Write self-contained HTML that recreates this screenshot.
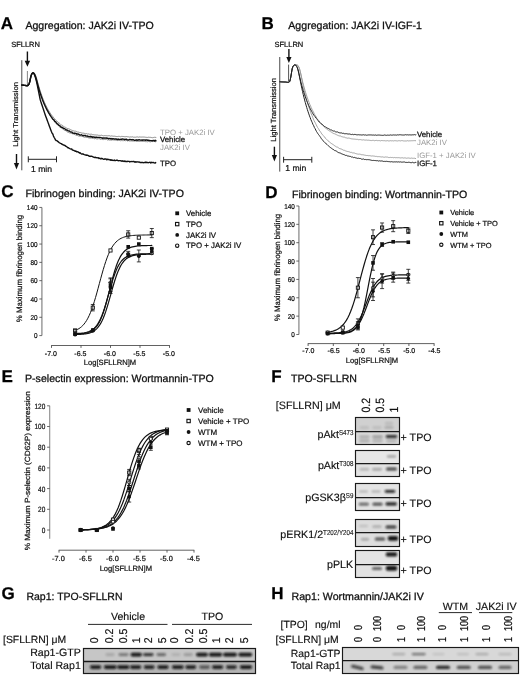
<!DOCTYPE html>
<html lang="en">
<head>
<meta charset="utf-8">
<title>Figure</title>
<style>
html,body{margin:0;padding:0;background:#fff;}
body{width:520px;height:677px;overflow:hidden;}
svg{display:block;font-family:'Liberation Sans', sans-serif;text-rendering:geometricPrecision;filter:blur(0.4px);}
</style>
</head>
<body>
<svg width="520" height="677" viewBox="0 0 520 677" style="font-family:'Liberation Sans', sans-serif">
<rect x="0" y="0" width="520" height="677" fill="#ffffff"/>
<text x="0.70" y="29.40" font-size="17.0" font-weight="bold" text-anchor="start" fill="#000" stroke="#000" stroke-width="0.25">A</text>
<text x="25.40" y="29.40" font-size="10.6" text-anchor="start" fill="#111" stroke="#111" stroke-width="0.28">Aggregation: JAK2i IV-TPO</text>
<text x="11.20" y="47.00" font-size="7.5" text-anchor="start" fill="#111" stroke="#111" stroke-width="0.22">SFLLRN</text>
<line x1="27.40" y1="51.50" x2="27.40" y2="61.80" stroke="#111" stroke-width="1.4"/>
<polygon points="24.70,60.80 30.10,60.80 27.40,66.80" fill="#111"/>
<line x1="21.80" y1="60.20" x2="21.80" y2="170.30" stroke="#4a4a4a" stroke-width="1.0"/>
<text x="0" y="0" font-size="7.1" fill="#111" stroke="#111" stroke-width="0.22" transform="translate(17.55 146.7) rotate(-90) scale(1.096 1)">Light Transmission</text>
<line x1="16.50" y1="154.00" x2="16.50" y2="164.00" stroke="#111" stroke-width="1.4"/>
<polygon points="13.90,163.00 19.10,163.00 16.50,169.50" fill="#111"/>
<line x1="28.30" y1="159.30" x2="56.50" y2="159.30" stroke="#222" stroke-width="1.0"/>
<line x1="28.30" y1="156.30" x2="28.30" y2="162.30" stroke="#222" stroke-width="1.0"/>
<line x1="56.50" y1="156.30" x2="56.50" y2="162.30" stroke="#222" stroke-width="1.0"/>
<text x="31.00" y="171.60" font-size="8.6" text-anchor="start" fill="#111" stroke="#111" stroke-width="0.22">1 min</text>
<line x1="27.40" y1="71.00" x2="27.40" y2="85.50" stroke="#777" stroke-width="0.9"/>
<path d="M21.80,85.00 L22.30,85.07 L22.80,85.13 L23.30,85.20 L23.80,85.27 L24.30,85.33 L24.80,85.38 L25.30,85.44 L25.80,85.54 L26.30,85.65 L26.80,85.72 L27.30,85.68 L27.80,85.50 L28.30,85.11 L28.80,84.41 L29.30,83.29 L29.80,81.49 L30.30,79.08 L30.80,76.75 L31.30,75.09 L31.80,73.95 L32.30,73.30 L32.80,72.97 L33.30,72.81 L33.80,72.85 L34.30,73.12 L34.80,73.70 L35.30,74.70 L35.80,75.96 L36.30,77.40 L36.80,79.11 L37.30,80.94 L38.30,84.57 L39.00,87.02 L39.70,89.34 L40.40,91.54 L41.10,93.64 L41.80,95.63 L42.50,97.53 L43.20,99.33 L43.90,101.04 L44.60,102.67 L45.30,104.21 L46.00,105.68 L46.70,107.08 L47.40,108.41 L48.10,109.68 L48.80,110.88 L49.50,112.03 L50.20,113.12 L50.90,114.15 L51.60,115.14 L52.30,115.99 L53.00,116.80 L53.70,117.90 L54.40,118.42 L55.10,119.43 L55.80,120.08 L56.50,120.63 L57.20,121.52 L57.90,121.92 L58.60,122.73 L59.30,123.12 L60.00,123.68 L60.70,124.38 L61.40,125.08 L62.10,125.21 L62.80,125.71 L63.50,126.35 L64.20,126.93 L64.90,127.14 L65.60,127.43 L66.30,128.09 L67.00,127.97 L67.70,128.71 L68.40,128.74 L69.10,128.97 L69.80,129.25 L70.50,129.62 L71.20,130.14 L71.90,130.08 L72.60,130.52 L73.30,130.78 L74.00,130.87 L74.70,131.18 L75.40,131.14 L76.10,131.33 L76.80,131.60 L77.50,132.02 L78.20,132.06 L78.90,132.18 L79.60,132.47 L80.30,132.56 L81.00,132.63 L81.70,133.03 L82.40,133.12 L83.10,133.02 L83.80,133.31 L84.50,133.41 L85.20,133.71 L85.90,133.75 L86.60,133.64 L87.30,134.09 L88.00,133.76 L88.70,134.01 L89.40,134.28 L90.10,134.07 L90.80,134.33 L91.50,134.19 L92.20,134.59 L92.90,134.72 L93.60,134.70 L94.30,134.93 L95.00,134.72 L95.70,134.98 L96.40,135.00 L97.10,135.06 L97.80,135.07 L98.50,135.32 L99.20,135.44 L99.90,135.26 L100.60,135.42 L101.30,135.17 L102.00,135.55 L102.70,135.57 L103.40,135.80 L104.10,135.77 L104.80,135.55 L105.50,135.65 L106.20,135.84 L106.90,135.56 L107.60,135.82 L108.30,135.72 L109.00,135.74 L109.70,135.75 L110.40,136.15 L111.10,135.87 L111.80,135.97 L112.50,136.08 L113.20,136.35 L113.90,136.00 L114.60,136.22 L115.30,136.30 L116.00,136.50 L116.70,136.50 L117.40,136.56 L118.10,136.30 L118.80,136.40 L119.50,136.40 L120.20,136.70 L120.90,136.76 L121.60,136.39 L122.30,136.43 L123.00,136.49 L123.70,136.52 L124.40,136.67 L125.10,136.75 L125.80,136.61 L126.50,136.51 L127.20,136.74 L127.90,136.74 L128.60,136.86 L129.30,137.08 L130.00,136.97 L130.70,136.91 L131.40,136.98 L132.10,137.04 L132.80,136.75 L133.50,137.19 L134.20,137.15 L134.90,137.22 L135.60,137.21 L136.30,137.02 L137.00,137.05 L137.70,136.92 L138.40,137.20 L139.10,136.94 L139.80,136.96 L140.50,137.05 L141.20,137.04 L141.90,137.15 L142.60,137.03 L143.30,137.02 L144.00,137.11 L144.70,137.10 L145.40,137.25 L146.10,137.10 L146.80,137.54 L147.50,137.43 L148.20,137.21 L148.90,137.28 L149.60,137.34 L150.30,137.36 L151.00,137.26 L151.70,137.64 L152.40,137.72 L153.10,137.47 L153.80,137.50 L154.50,137.31 L155.20,137.33 L155.90,137.47" fill="none" stroke="#8a8a8a" stroke-width="1.0" stroke-linejoin="round" stroke-linecap="round"/>
<path d="M21.80,85.00 L22.30,85.07 L22.80,85.13 L23.30,85.20 L23.80,85.27 L24.30,85.33 L24.80,85.38 L25.30,85.44 L25.80,85.54 L26.30,85.65 L26.80,85.72 L27.30,85.68 L27.80,85.50 L28.30,85.11 L28.80,84.41 L29.30,83.29 L29.80,81.49 L30.30,79.08 L30.80,76.75 L31.30,75.09 L31.80,73.97 L32.30,73.30 L32.80,72.95 L33.30,72.83 L33.80,72.97 L34.30,73.43 L34.80,74.28 L35.30,75.44 L35.80,76.78 L36.30,78.40 L36.80,80.21 L37.30,82.00 L38.00,84.76 L38.70,87.38 L39.40,89.87 L40.10,92.23 L40.80,94.48 L41.50,96.61 L42.20,98.64 L42.90,100.56 L43.60,102.39 L44.30,104.13 L45.00,105.78 L45.70,107.36 L46.40,108.85 L47.10,110.27 L47.80,111.62 L48.50,112.90 L49.20,114.12 L49.90,115.28 L50.60,116.39 L51.30,117.44 L52.00,118.30 L52.70,119.59 L53.40,120.10 L54.10,120.88 L54.80,122.26 L55.50,122.79 L56.20,123.30 L56.90,124.25 L57.60,124.62 L58.30,125.57 L59.00,126.45 L59.70,126.97 L60.40,127.43 L61.10,127.71 L61.80,128.28 L62.50,128.65 L63.20,129.48 L63.90,129.78 L64.60,130.35 L65.30,130.48 L66.00,130.81 L66.70,131.53 L67.40,131.99 L68.10,132.25 L68.80,132.55 L69.50,132.87 L70.20,133.12 L70.90,133.09 L71.60,133.54 L72.30,133.71 L73.00,133.76 L73.70,134.00 L74.40,134.38 L75.10,134.59 L75.80,135.07 L76.50,135.43 L77.20,135.32 L77.90,135.80 L78.60,136.02 L79.30,136.17 L80.00,135.99 L80.70,136.06 L81.40,136.22 L82.10,136.35 L82.80,136.50 L83.50,136.89 L84.20,137.20 L84.90,137.29 L85.60,137.20 L86.30,137.43 L87.00,137.63 L87.70,137.32 L88.40,137.77 L89.10,138.03 L89.80,138.05 L90.50,138.13 L91.20,138.07 L91.90,137.98 L92.60,138.44 L93.30,138.25 L94.00,138.62 L94.70,138.80 L95.40,138.54 L96.10,138.62 L96.80,139.02 L97.50,138.97 L98.20,138.71 L98.90,138.75 L99.60,138.83 L100.30,139.35 L101.00,139.36 L101.70,139.02 L102.40,139.49 L103.10,139.65 L103.80,139.51 L104.50,139.38 L105.20,139.56 L105.90,139.36 L106.60,139.35 L107.30,139.97 L108.00,139.83 L108.70,139.81 L109.40,140.10 L110.10,139.85 L110.80,140.16 L111.50,140.18 L112.20,139.85 L112.90,139.92 L113.60,139.99 L114.30,140.00 L115.00,140.25 L115.70,140.09 L116.40,140.23 L117.10,140.09 L117.80,140.60 L118.50,140.30 L119.20,140.40 L119.90,140.51 L120.60,140.74 L121.30,140.49 L122.00,140.82 L122.70,140.60 L123.40,140.65 L124.10,140.68 L124.80,140.41 L125.50,140.69 L126.20,140.57 L126.90,140.49 L127.60,141.00 L128.30,140.65 L129.00,140.86 L129.70,141.04 L130.40,140.97 L131.10,140.86 L131.80,141.00 L132.50,141.05 L133.20,141.22 L133.90,140.83 L134.60,141.13 L135.30,140.97 L136.00,141.01 L136.70,141.33 L137.40,141.20 L138.10,141.26 L138.80,141.40 L139.50,141.51 L140.20,141.25 L140.90,141.38 L141.60,141.34 L142.30,141.36 L143.00,141.49 L143.70,141.37 L144.40,141.44 L145.10,141.42 L145.80,141.72 L146.50,141.60 L147.20,141.72 L147.90,141.78 L148.60,141.39 L149.30,141.59 L150.00,141.84 L150.70,141.80 L151.40,141.39 L152.10,141.40 L152.80,141.61 L153.50,141.41 L154.20,141.52 L154.90,141.44 L155.60,141.82" fill="none" stroke="#8a8a8a" stroke-width="1.0" stroke-linejoin="round" stroke-linecap="round"/>
<path d="M21.80,85.00 L22.30,85.07 L22.80,85.13 L23.30,85.20 L23.80,85.27 L24.30,85.33 L24.80,85.38 L25.30,85.44 L25.80,85.54 L26.30,85.65 L26.80,85.72 L27.30,85.68 L27.80,85.50 L28.30,85.11 L28.80,84.41 L29.30,83.29 L29.80,81.49 L30.30,79.08 L30.80,76.75 L31.30,75.09 L31.80,73.98 L32.30,73.30 L32.80,72.94 L33.30,72.89 L33.80,73.20 L34.30,73.91 L34.80,74.96 L35.30,76.23 L35.80,77.72 L36.30,79.48 L36.80,81.30 L37.70,84.67 L38.40,87.20 L39.10,89.61 L39.80,91.90 L40.50,94.07 L41.20,96.13 L41.90,98.10 L42.60,99.96 L43.30,101.73 L44.00,103.42 L44.70,105.02 L45.40,106.54 L46.10,107.99 L46.80,109.37 L47.50,110.68 L48.20,111.93 L48.90,113.12 L49.60,114.25 L50.30,115.32 L51.00,116.35 L51.70,117.32 L52.40,118.48 L53.10,119.45 L53.80,119.70 L54.50,120.95 L55.20,121.67 L55.90,121.99 L56.60,123.28 L57.30,124.01 L58.00,124.04 L58.70,125.23 L59.40,125.36 L60.10,125.99 L60.80,126.91 L61.50,127.29 L62.20,127.23 L62.90,127.91 L63.60,128.41 L64.30,128.69 L65.00,128.97 L65.70,129.46 L66.40,130.15 L67.10,129.93 L67.80,130.70 L68.50,130.93 L69.20,130.90 L69.90,131.45 L70.60,131.96 L71.30,132.15 L72.00,132.05 L72.70,133.04 L73.40,133.12 L74.10,133.50 L74.80,133.03 L75.50,133.37 L76.20,133.39 L76.90,134.18 L77.60,133.97 L78.30,134.04 L79.00,134.45 L79.70,135.01 L80.40,135.10 L81.10,134.81 L81.80,134.88 L82.50,135.64 L83.20,135.50 L83.90,135.74 L84.60,135.39 L85.30,135.49 L86.00,136.12 L86.70,136.03 L87.40,135.86 L88.10,136.67 L88.80,136.54 L89.50,136.78 L90.20,136.30 L90.90,137.02 L91.60,136.49 L92.30,137.22 L93.00,136.98 L93.70,136.98 L94.40,137.24 L95.10,137.62 L95.80,137.17 L96.50,137.14 L97.20,137.54 L97.90,137.38 L98.60,137.35 L99.30,137.47 L100.00,137.45 L100.70,137.64 L101.40,137.79 L102.10,137.85 L102.80,138.28 L103.50,137.96 L104.20,138.19 L104.90,137.99 L105.60,138.18 L106.30,137.98 L107.00,138.22 L107.70,138.09 L108.40,138.71 L109.10,138.62 L109.80,138.38 L110.50,138.66 L111.20,139.07 L111.90,138.46 L112.60,139.08 L113.30,138.81 L114.00,138.91 L114.70,139.22 L115.40,138.91 L116.10,139.05 L116.80,139.23 L117.50,139.51 L118.20,139.04 L118.90,139.47 L119.60,139.41 L120.30,139.39 L121.00,139.24 L121.70,139.23 L122.40,139.04 L123.10,139.13 L123.80,139.12 L124.50,139.69 L125.20,139.34 L125.90,139.30 L126.60,139.27 L127.30,139.90 L128.00,139.96 L128.70,139.83 L129.40,139.55 L130.10,139.55 L130.80,139.62 L131.50,139.78 L132.20,139.57 L132.90,139.83 L133.60,139.71 L134.30,140.30 L135.00,140.33 L135.70,140.02 L136.40,139.80 L137.10,140.41 L137.80,139.91 L138.50,139.97 L139.20,139.71 L139.90,140.04 L140.60,140.14 L141.30,140.19 L142.00,139.97 L142.70,140.23 L143.40,139.86 L144.10,140.09 L144.80,139.97 L145.50,140.24 L146.20,139.97 L146.90,139.98 L147.60,140.23 L148.30,140.19 L149.00,140.49 L149.70,140.47 L150.40,140.67 L151.10,140.61 L151.80,140.68 L152.50,140.83 L153.20,140.45 L153.90,140.42 L154.60,140.97 L155.30,140.32 L156.00,140.80" fill="none" stroke="#111" stroke-width="1.4" stroke-linejoin="round" stroke-linecap="round"/>
<path d="M21.80,85.00 L22.30,85.07 L22.80,85.13 L23.30,85.20 L23.80,85.27 L24.30,85.33 L24.80,85.38 L25.30,85.44 L25.80,85.54 L26.30,85.65 L26.80,85.72 L27.30,85.68 L27.80,85.50 L28.30,85.11 L28.80,84.41 L29.30,83.29 L29.80,81.49 L30.30,79.08 L30.80,76.75 L31.30,75.10 L31.80,74.01 L32.30,73.30 L32.80,72.93 L33.30,73.02 L33.80,73.61 L34.30,74.53 L34.80,75.70 L35.30,77.08 L35.80,78.75 L36.30,80.57 L37.40,85.50 L38.10,89.00 L38.80,92.50 L39.50,96.00 L40.20,99.50 L40.90,101.81 L41.60,103.93 L42.30,106.04 L43.00,108.15 L43.70,110.27 L44.40,112.38 L45.10,114.49 L45.80,116.48 L46.50,118.36 L47.20,120.24 L47.90,122.12 L48.60,124.00 L49.30,125.89 L50.00,127.77 L50.70,129.65 L51.40,131.53 L52.10,133.11 L52.80,134.04 L53.50,136.07 L54.20,137.51 L54.90,138.70 L55.60,140.06 L56.30,140.64 L57.00,140.61 L57.70,141.43 L58.40,141.93 L59.10,142.61 L59.80,142.99 L60.50,143.40 L61.20,143.61 L61.90,144.26 L62.60,144.52 L63.30,144.97 L64.00,145.04 L64.70,145.32 L65.40,145.84 L66.10,146.41 L66.80,146.59 L67.50,147.55 L68.20,147.71 L68.90,148.14 L69.60,148.49 L70.30,148.88 L71.00,149.06 L71.70,149.01 L72.40,149.98 L73.10,150.28 L73.80,150.42 L74.50,150.79 L75.20,151.21 L75.90,151.01 L76.60,151.83 L77.30,151.72 L78.00,151.86 L78.70,152.29 L79.40,152.94 L80.10,152.80 L80.80,153.51 L81.50,153.98 L82.20,153.82 L82.90,153.95 L83.60,154.25 L84.30,154.64 L85.00,154.93 L85.70,155.03 L86.40,155.27 L87.10,155.04 L87.80,155.32 L88.50,155.63 L89.20,156.24 L89.90,156.11 L90.60,156.48 L91.30,156.18 L92.00,156.37 L92.70,156.68 L93.40,157.15 L94.10,157.31 L94.80,157.45 L95.50,157.29 L96.20,157.62 L96.90,157.72 L97.60,157.87 L98.30,157.74 L99.00,158.50 L99.70,158.10 L100.40,158.84 L101.10,158.90 L101.80,158.27 L102.50,158.72 L103.20,159.10 L103.90,159.32 L104.60,159.00 L105.30,158.96 L106.00,159.01 L106.70,159.69 L107.40,159.20 L108.10,159.60 L108.80,159.35 L109.50,159.75 L110.20,160.18 L110.90,159.61 L111.60,160.23 L112.30,160.06 L113.00,160.44 L113.70,160.37 L114.40,160.07 L115.10,160.68 L115.80,160.43 L116.50,160.13 L117.20,160.19 L117.90,160.66 L118.60,160.71 L119.30,160.66 L120.00,160.61 L120.70,160.82 L121.40,160.84 L122.10,161.31 L122.80,160.68 L123.50,161.33 L124.20,161.44 L124.90,160.91 L125.60,161.61 L126.30,161.48 L127.00,161.68 L127.70,161.23 L128.40,161.34 L129.10,161.41 L129.80,161.94 L130.50,161.65 L131.20,161.52 L131.90,161.62 L132.60,161.54 L133.30,161.40 L134.00,161.49 L134.70,162.12 L135.40,161.73 L136.10,162.29 L136.80,161.79 L137.50,161.85 L138.20,162.09 L138.90,161.88 L139.60,162.07 L140.30,162.58 L141.00,162.54 L141.70,162.51 L142.40,162.39 L143.10,162.65 L143.80,162.70 L144.50,162.41 L145.20,162.57 L145.90,162.06 L146.60,162.63 L147.30,162.43 L148.00,162.70 L148.70,162.64 L149.40,162.38 L150.10,162.22 L150.80,162.95 L151.50,162.33 L152.20,162.64 L152.90,162.56 L153.60,162.55 L154.30,162.93 L155.00,163.14 L155.70,162.60" fill="none" stroke="#111" stroke-width="1.4" stroke-linejoin="round" stroke-linecap="round"/>
<text x="160.00" y="134.70" font-size="7.8" text-anchor="start" fill="#999">TPO + JAK2i IV</text>
<text x="160.00" y="142.20" font-size="7.8" text-anchor="start" fill="#111" stroke="#111" stroke-width="0.25">Vehicle</text>
<text x="160.00" y="150.00" font-size="7.8" text-anchor="start" fill="#999">JAK2i IV</text>
<text x="160.00" y="165.80" font-size="7.8" text-anchor="start" fill="#111" stroke="#111" stroke-width="0.25">TPO</text>
<text x="261.60" y="29.40" font-size="17.0" font-weight="bold" text-anchor="start" fill="#000" stroke="#000" stroke-width="0.25">B</text>
<text x="288.30" y="29.40" font-size="10.6" text-anchor="start" fill="#111" stroke="#111" stroke-width="0.28">Aggregation: JAK2i IV-IGF-1</text>
<text x="274.50" y="47.00" font-size="7.5" text-anchor="start" fill="#111" stroke="#111" stroke-width="0.22">SFLLRN</text>
<line x1="288.90" y1="49.00" x2="288.90" y2="58.00" stroke="#111" stroke-width="1.4"/>
<polygon points="286.30,57.00 291.50,57.00 288.90,63.00" fill="#111"/>
<line x1="279.75" y1="57.00" x2="279.75" y2="171.60" stroke="#4a4a4a" stroke-width="1.0"/>
<text x="0" y="0" font-size="7.4" fill="#111" stroke="#111" stroke-width="0.22" transform="translate(276.2 141.7) rotate(-90) scale(1.035 1)">Light Transmission</text>
<line x1="274.40" y1="146.70" x2="274.40" y2="156.10" stroke="#111" stroke-width="1.4"/>
<polygon points="271.80,155.10 277.00,155.10 274.40,161.60" fill="#111"/>
<line x1="283.60" y1="159.70" x2="311.80" y2="159.70" stroke="#222" stroke-width="1.0"/>
<line x1="283.60" y1="156.80" x2="283.60" y2="162.70" stroke="#222" stroke-width="1.0"/>
<line x1="311.80" y1="156.80" x2="311.80" y2="162.70" stroke="#222" stroke-width="1.0"/>
<text x="285.30" y="170.80" font-size="8.6" text-anchor="start" fill="#111" stroke="#111" stroke-width="0.22">1 min</text>
<line x1="288.60" y1="64.60" x2="288.60" y2="81.50" stroke="#555" stroke-width="1.0"/>
<path d="M279.80,81.80 L280.30,81.82 L280.80,81.84 L281.30,81.87 L281.80,81.90 L282.30,81.92 L282.80,81.94 L283.30,81.96 L283.80,81.98 L284.30,81.99 L284.80,82.00 L285.30,82.01 L285.80,82.07 L286.30,82.15 L286.80,82.24 L287.30,82.31 L287.80,82.33 L288.30,82.30 L288.80,82.17 L289.30,81.93 L289.80,81.28 L290.30,79.41 L290.80,76.95 L291.30,73.80 L291.80,70.60 L292.30,68.28 L292.80,67.16 L293.30,66.39 L293.80,65.89 L294.30,65.58 L294.80,65.39 L295.30,65.25 L295.80,65.09 L296.30,64.89 L296.80,64.84 L297.30,65.01 L297.80,65.40 L298.30,66.05 L298.80,66.99 L299.30,68.22 L299.80,69.85 L300.30,71.91 L300.80,74.00 L301.50,77.07 L302.20,79.99 L302.90,82.78 L303.60,85.44 L304.30,87.98 L305.00,90.40 L305.70,92.71 L306.40,94.91 L307.10,97.02 L307.80,99.02 L308.50,100.93 L309.20,102.76 L309.90,104.56 L310.60,106.08 L311.30,107.77 L312.00,109.22 L312.70,110.57 L313.40,111.94 L314.10,113.28 L314.80,114.81 L315.50,115.84 L316.20,116.87 L316.90,118.24 L317.60,119.31 L318.30,120.09 L319.00,120.91 L319.70,121.83 L320.40,122.66 L321.10,123.58 L321.80,124.27 L322.50,125.08 L323.20,125.80 L323.90,126.61 L324.60,127.39 L325.30,127.95 L326.00,128.41 L326.70,128.98 L327.40,129.57 L328.10,130.03 L328.80,130.51 L329.50,130.87 L330.20,131.40 L330.90,132.11 L331.60,132.18 L332.30,132.73 L333.00,133.15 L333.70,133.60 L334.40,133.69 L335.10,134.03 L335.80,134.34 L336.50,134.69 L337.20,135.00 L337.90,135.47 L338.60,135.69 L339.30,135.95 L340.00,135.84 L340.70,136.07 L341.40,136.56 L342.10,136.84 L342.80,136.87 L343.50,137.10 L344.20,137.04 L344.90,137.37 L345.60,137.75 L346.30,137.87 L347.00,138.03 L347.70,138.22 L348.40,138.06 L349.10,138.14 L349.80,138.28 L350.50,138.55 L351.20,138.72 L351.90,138.93 L352.60,138.95 L353.30,139.02 L354.00,139.16 L354.70,139.13 L355.40,139.25 L356.10,139.13 L356.80,139.50 L357.50,139.36 L358.20,139.70 L358.90,139.66 L359.60,139.59 L360.30,139.58 L361.00,139.69 L361.70,139.90 L362.40,139.98 L363.10,139.80 L363.80,139.83 L364.50,140.06 L365.20,140.13 L365.90,140.09 L366.60,140.06 L367.30,140.25 L368.00,140.05 L368.70,140.21 L369.40,140.30 L370.10,140.53 L370.80,140.44 L371.50,140.56 L372.20,140.43 L372.90,140.35 L373.60,140.38 L374.30,140.69 L375.00,140.61 L375.70,140.47 L376.40,140.38 L377.10,140.59 L377.80,140.68 L378.50,140.59 L379.20,140.54 L379.90,140.72 L380.60,140.84 L381.30,140.57 L382.00,140.51 L382.70,140.64 L383.40,140.69 L384.10,140.80 L384.80,140.62 L385.50,140.87 L386.20,140.85 L386.90,140.76 L387.60,140.65 L388.30,140.96 L389.00,140.71 L389.70,140.92 L390.40,140.69 L391.10,140.69 L391.80,140.91 L392.50,140.72 L393.20,140.99 L393.90,140.81 L394.60,140.69 L395.30,140.71 L396.00,140.79 L396.70,140.89 L397.40,141.00 L398.10,140.68 L398.80,140.78 L399.50,140.71 L400.20,141.01 L400.90,140.68 L401.60,140.64 L402.30,140.65 L403.00,140.78 L403.70,140.98 L404.40,140.97 L405.10,140.91 L405.80,141.01 L406.50,140.98 L407.20,140.74 L407.90,140.68 L408.60,140.98 L409.30,140.90 L410.00,140.61 L410.70,140.86 L411.40,140.74 L412.10,140.74 L412.80,140.72 L413.50,140.65 L414.20,140.58 L414.90,140.69 L415.60,140.71" fill="none" stroke="#999" stroke-width="0.9" stroke-linejoin="round" stroke-linecap="round"/>
<path d="M279.80,81.80 L280.30,81.82 L280.80,81.84 L281.30,81.87 L281.80,81.90 L282.30,81.92 L282.80,81.94 L283.30,81.96 L283.80,81.98 L284.30,81.99 L284.80,82.00 L285.30,82.01 L285.80,82.07 L286.30,82.15 L286.80,82.24 L287.30,82.31 L287.80,82.33 L288.30,82.30 L288.80,82.17 L289.30,81.93 L289.80,81.28 L290.30,79.41 L290.80,76.95 L291.30,73.80 L291.80,70.60 L292.30,68.28 L292.80,67.16 L293.30,66.39 L293.80,65.89 L294.30,65.58 L294.80,65.39 L295.30,65.25 L295.80,65.09 L296.30,64.89 L296.80,64.84 L297.30,65.01 L297.80,65.40 L298.30,66.05 L298.80,66.99 L299.30,68.22 L299.80,69.85 L300.30,71.91 L300.80,74.00 L301.50,77.63 L302.20,81.09 L302.90,84.39 L303.60,87.53 L304.30,90.53 L305.00,93.39 L305.70,96.11 L306.40,98.71 L307.10,101.19 L307.80,103.56 L308.50,105.82 L309.20,107.97 L309.90,110.21 L310.60,111.84 L311.30,114.05 L312.00,115.54 L312.70,117.31 L313.40,119.13 L314.10,120.69 L314.80,122.02 L315.50,123.29 L316.20,124.82 L316.90,126.08 L317.60,127.55 L318.30,128.45 L319.00,129.65 L319.70,130.95 L320.40,131.65 L321.10,132.80 L321.80,133.91 L322.50,134.81 L323.20,135.39 L323.90,136.23 L324.60,137.04 L325.30,138.15 L326.00,138.62 L326.70,139.52 L327.40,140.26 L328.10,140.69 L328.80,141.28 L329.50,142.15 L330.20,142.59 L330.90,143.00 L331.60,143.71 L332.30,144.05 L333.00,144.52 L333.70,144.88 L334.40,145.63 L335.10,146.13 L335.80,146.43 L336.50,146.95 L337.20,146.97 L337.90,147.42 L338.60,147.88 L339.30,148.41 L340.00,148.74 L340.70,148.83 L341.40,149.08 L342.10,149.45 L342.80,149.76 L343.50,150.20 L344.20,150.17 L344.90,150.67 L345.60,150.89 L346.30,151.16 L347.00,151.37 L347.70,151.52 L348.40,151.62 L349.10,151.83 L349.80,152.04 L350.50,152.40 L351.20,152.31 L351.90,152.53 L352.60,152.93 L353.30,152.90 L354.00,152.99 L354.70,153.13 L355.40,153.49 L356.10,153.55 L356.80,153.95 L357.50,154.05 L358.20,154.23 L358.90,154.07 L359.60,154.12 L360.30,154.25 L361.00,154.53 L361.70,154.73 L362.40,154.73 L363.10,154.76 L363.80,154.94 L364.50,155.12 L365.20,155.24 L365.90,155.37 L366.60,155.50 L367.30,155.52 L368.00,155.39 L368.70,155.76 L369.40,155.63 L370.10,155.82 L370.80,155.82 L371.50,156.04 L372.20,155.90 L372.90,155.99 L373.60,156.06 L374.30,156.09 L375.00,156.45 L375.70,156.40 L376.40,156.36 L377.10,156.45 L377.80,156.75 L378.50,156.61 L379.20,156.56 L379.90,156.85 L380.60,156.84 L381.30,157.03 L382.00,156.72 L382.70,156.92 L383.40,157.11 L384.10,157.17 L384.80,157.24 L385.50,156.94 L386.20,157.09 L386.90,157.06 L387.60,157.13 L388.30,157.49 L389.00,157.37 L389.70,157.55 L390.40,157.37 L391.10,157.60 L391.80,157.47 L392.50,157.43 L393.20,157.67 L393.90,157.78 L394.60,157.47 L395.30,157.70 L396.00,157.74 L396.70,157.61 L397.40,157.71 L398.10,157.64 L398.80,157.70 L399.50,157.75 L400.20,157.91 L400.90,157.96 L401.60,157.81 L402.30,157.76 L403.00,157.91 L403.70,158.08 L404.40,157.90 L405.10,157.98 L405.80,157.96 L406.50,158.22 L407.20,158.14 L407.90,157.97 L408.60,158.01 L409.30,158.15 L410.00,158.23 L410.70,158.29 L411.40,158.09 L412.10,158.13 L412.80,158.37 L413.50,158.27 L414.20,158.24 L414.90,158.27 L415.60,158.54" fill="none" stroke="#999" stroke-width="0.9" stroke-linejoin="round" stroke-linecap="round"/>
<path d="M279.80,81.80 L280.30,81.82 L280.80,81.84 L281.30,81.87 L281.80,81.90 L282.30,81.92 L282.80,81.94 L283.30,81.96 L283.80,81.98 L284.30,81.99 L284.80,82.00 L285.30,82.01 L285.80,82.07 L286.30,82.15 L286.80,82.24 L287.30,82.31 L287.80,82.33 L288.30,82.30 L288.80,82.17 L289.30,81.93 L289.80,81.28 L290.30,79.41 L290.80,76.98 L291.30,74.00 L291.80,70.92 L292.30,68.39 L292.80,66.80 L293.30,65.85 L293.80,65.30 L294.30,64.93 L294.80,64.77 L295.30,64.88 L295.80,65.21 L296.30,65.76 L296.80,66.58 L297.30,67.69 L297.80,69.13 L298.30,71.06 L298.80,73.19 L299.70,77.08 L300.40,80.02 L301.10,82.80 L301.80,85.45 L302.50,87.97 L303.20,90.36 L303.90,92.63 L304.60,94.79 L305.30,96.84 L306.00,98.79 L306.70,100.65 L307.40,102.41 L308.10,104.08 L308.80,105.67 L309.50,107.18 L310.20,108.52 L310.90,110.01 L311.60,111.21 L312.30,112.47 L313.00,113.86 L313.70,115.04 L314.40,115.78 L315.10,116.70 L315.80,117.92 L316.50,118.56 L317.20,119.32 L317.90,120.58 L318.60,121.12 L319.30,122.06 L320.00,122.55 L320.70,123.45 L321.40,123.87 L322.10,124.32 L322.80,124.82 L323.50,125.63 L324.20,126.19 L324.90,126.81 L325.60,126.86 L326.30,127.57 L327.00,127.86 L327.70,128.32 L328.40,128.52 L329.10,128.94 L329.80,129.40 L330.50,129.92 L331.20,129.82 L331.90,130.30 L332.60,130.73 L333.30,131.07 L334.00,130.93 L334.70,131.13 L335.40,131.76 L336.10,131.99 L336.80,131.94 L337.50,131.92 L338.20,132.53 L338.90,132.43 L339.60,132.85 L340.30,132.86 L341.00,133.11 L341.70,132.91 L342.40,133.35 L343.10,133.19 L343.80,133.40 L344.50,133.73 L345.20,133.82 L345.90,133.60 L346.60,133.71 L347.30,133.89 L348.00,134.03 L348.70,134.04 L349.40,133.98 L350.10,134.11 L350.80,134.42 L351.50,134.56 L352.20,134.19 L352.90,134.51 L353.60,134.66 L354.30,134.35 L355.00,134.79 L355.70,134.47 L356.40,134.75 L357.10,134.77 L357.80,134.84 L358.50,134.71 L359.20,134.80 L359.90,134.91 L360.60,134.86 L361.30,135.00 L362.00,134.91 L362.70,134.93 L363.40,134.74 L364.10,135.06 L364.80,135.01 L365.50,134.90 L366.20,135.18 L366.90,135.20 L367.60,135.05 L368.30,134.92 L369.00,135.07 L369.70,134.90 L370.40,134.92 L371.10,135.07 L371.80,134.91 L372.50,135.09 L373.20,135.13 L373.90,134.90 L374.60,135.20 L375.30,134.92 L376.00,135.25 L376.70,135.27 L377.40,135.14 L378.10,134.91 L378.80,135.13 L379.50,135.07 L380.20,135.35 L380.90,134.94 L381.60,135.30 L382.30,135.37 L383.00,135.23 L383.70,135.27 L384.40,134.95 L385.10,135.34 L385.80,135.09 L386.50,135.32 L387.20,135.29 L387.90,134.91 L388.60,135.22 L389.30,135.28 L390.00,134.84 L390.70,134.98 L391.40,135.17 L392.10,134.87 L392.80,135.23 L393.50,134.91 L394.20,135.17 L394.90,134.83 L395.60,135.00 L396.30,135.20 L397.00,134.83 L397.70,134.85 L398.40,134.97 L399.10,134.86 L399.80,134.71 L400.50,134.78 L401.20,134.76 L401.90,135.14 L402.60,135.00 L403.30,135.10 L404.00,134.72 L404.70,135.02 L405.40,134.68 L406.10,134.88 L406.80,134.92 L407.50,134.77 L408.20,135.02 L408.90,134.85 L409.60,134.85 L410.30,134.99 L411.00,134.59 L411.70,135.03 L412.40,134.83 L413.10,134.71 L413.80,134.90 L414.50,134.62 L415.20,134.97 L415.90,134.76" fill="none" stroke="#222" stroke-width="1.0" stroke-linejoin="round" stroke-linecap="round"/>
<path d="M279.80,81.80 L280.30,81.82 L280.80,81.84 L281.30,81.87 L281.80,81.90 L282.30,81.92 L282.80,81.94 L283.30,81.96 L283.80,81.98 L284.30,81.99 L284.80,82.00 L285.30,82.01 L285.80,82.07 L286.30,82.15 L286.80,82.24 L287.30,82.31 L287.80,82.33 L288.30,82.30 L288.80,82.17 L289.30,81.93 L289.80,81.28 L290.30,79.41 L290.80,76.98 L291.30,74.00 L291.80,70.92 L292.30,68.39 L292.80,66.80 L293.30,65.85 L293.80,65.30 L294.30,64.93 L294.80,64.77 L295.30,64.88 L295.80,65.21 L296.30,65.76 L296.80,66.58 L297.30,67.69 L297.80,69.13 L298.30,71.06 L298.80,73.19 L299.70,77.81 L300.40,81.44 L301.10,84.91 L301.80,88.21 L302.50,91.35 L303.20,94.35 L303.90,97.22 L304.60,99.95 L305.30,102.55 L306.00,105.03 L306.70,107.41 L307.40,109.67 L308.10,111.83 L308.80,113.89 L309.50,115.86 L310.20,117.66 L310.90,119.66 L311.60,121.21 L312.30,122.72 L313.00,124.57 L313.70,125.71 L314.40,127.53 L315.10,128.61 L315.80,130.11 L316.50,131.53 L317.20,132.52 L317.90,133.70 L318.60,134.62 L319.30,135.51 L320.00,136.53 L320.70,137.54 L321.40,138.70 L322.10,139.48 L322.80,140.36 L323.50,141.36 L324.20,141.75 L324.90,142.54 L325.60,143.46 L326.30,143.83 L327.00,144.47 L327.70,145.27 L328.40,145.75 L329.10,146.45 L329.80,146.94 L330.50,147.65 L331.20,148.17 L331.90,148.46 L332.60,149.14 L333.30,149.52 L334.00,149.79 L334.70,150.61 L335.40,150.66 L336.10,151.00 L336.80,151.35 L337.50,151.98 L338.20,152.44 L338.90,152.73 L339.60,152.86 L340.30,153.10 L341.00,153.27 L341.70,153.87 L342.40,154.11 L343.10,154.27 L343.80,154.67 L344.50,154.82 L345.20,155.31 L345.90,155.44 L346.60,155.42 L347.30,155.96 L348.00,155.74 L348.70,156.18 L349.40,156.32 L350.10,156.42 L350.80,156.51 L351.50,157.05 L352.20,156.84 L352.90,157.27 L353.60,157.62 L354.30,157.38 L355.00,157.56 L355.70,157.91 L356.40,158.00 L357.10,158.20 L357.80,158.42 L358.50,158.23 L359.20,158.42 L359.90,158.53 L360.60,158.52 L361.30,159.06 L362.00,159.12 L362.70,159.19 L363.40,158.94 L364.10,159.46 L364.80,159.51 L365.50,159.46 L366.20,159.69 L366.90,159.64 L367.60,159.61 L368.30,159.64 L369.00,159.78 L369.70,159.77 L370.40,159.99 L371.10,160.28 L371.80,160.32 L372.50,160.47 L373.20,160.47 L373.90,160.32 L374.60,160.53 L375.30,160.53 L376.00,160.77 L376.70,160.70 L377.40,160.63 L378.10,160.88 L378.80,161.10 L379.50,160.78 L380.20,161.17 L380.90,160.79 L381.60,160.96 L382.30,161.00 L383.00,161.30 L383.70,161.45 L384.40,161.40 L385.10,161.24 L385.80,161.56 L386.50,161.32 L387.20,161.32 L387.90,161.70 L388.60,161.60 L389.30,161.67 L390.00,161.70 L390.70,161.89 L391.40,161.67 L392.10,161.89 L392.80,161.86 L393.50,161.97 L394.20,161.80 L394.90,161.97 L395.60,161.93 L396.30,161.83 L397.00,161.81 L397.70,162.05 L398.40,161.80 L399.10,162.25 L399.80,161.89 L400.50,161.86 L401.20,161.93 L401.90,162.37 L402.60,162.10 L403.30,162.02 L404.00,161.99 L404.70,162.02 L405.40,162.37 L406.10,162.36 L406.80,162.42 L407.50,162.46 L408.20,162.15 L408.90,162.43 L409.60,162.34 L410.30,162.58 L411.00,162.61 L411.70,162.66 L412.40,162.27 L413.10,162.69 L413.80,162.73 L414.50,162.76 L415.20,162.36 L415.90,162.43" fill="none" stroke="#222" stroke-width="1.0" stroke-linejoin="round" stroke-linecap="round"/>
<text x="417.00" y="137.20" font-size="7.8" text-anchor="start" fill="#111" stroke="#111" stroke-width="0.25">Vehicle</text>
<text x="417.00" y="144.60" font-size="7.8" text-anchor="start" fill="#999">JAK2i IV</text>
<text x="417.00" y="158.20" font-size="7.8" text-anchor="start" fill="#999">IGF-1 + JAK2i IV</text>
<text x="417.00" y="165.70" font-size="7.8" text-anchor="start" fill="#111" stroke="#111" stroke-width="0.25">IGF-1</text>
<text x="1.20" y="196.80" font-size="17.0" font-weight="bold" text-anchor="start" fill="#000" stroke="#000" stroke-width="0.25">C</text>
<text x="25.50" y="197.30" font-size="10.6" text-anchor="start" fill="#111" stroke="#111" stroke-width="0.28">Fibrinogen binding: JAK2i IV-TPO</text>
<line x1="41.90" y1="207.43" x2="41.90" y2="335.60" stroke="#8c8c8c" stroke-width="1.3"/>
<line x1="39.30" y1="335.60" x2="41.90" y2="335.60" stroke="#444" stroke-width="0.8"/>
<text x="0" y="0" font-size="7.1" text-anchor="end" fill="#111" stroke="#111" stroke-width="0.22" transform="translate(37.50 338.33) scale(0.9 1)">0</text>
<line x1="39.30" y1="317.29" x2="41.90" y2="317.29" stroke="#444" stroke-width="0.8"/>
<text x="0" y="0" font-size="7.1" text-anchor="end" fill="#111" stroke="#111" stroke-width="0.22" transform="translate(37.50 320.02) scale(0.9 1)">20</text>
<line x1="39.30" y1="298.98" x2="41.90" y2="298.98" stroke="#444" stroke-width="0.8"/>
<text x="0" y="0" font-size="7.1" text-anchor="end" fill="#111" stroke="#111" stroke-width="0.22" transform="translate(37.50 301.71) scale(0.9 1)">40</text>
<line x1="39.30" y1="280.67" x2="41.90" y2="280.67" stroke="#444" stroke-width="0.8"/>
<text x="0" y="0" font-size="7.1" text-anchor="end" fill="#111" stroke="#111" stroke-width="0.22" transform="translate(37.50 283.40) scale(0.9 1)">60</text>
<line x1="39.30" y1="262.36" x2="41.90" y2="262.36" stroke="#444" stroke-width="0.8"/>
<text x="0" y="0" font-size="7.1" text-anchor="end" fill="#111" stroke="#111" stroke-width="0.22" transform="translate(37.50 265.09) scale(0.9 1)">80</text>
<line x1="39.30" y1="244.05" x2="41.90" y2="244.05" stroke="#444" stroke-width="0.8"/>
<text x="0" y="0" font-size="7.1" text-anchor="end" fill="#111" stroke="#111" stroke-width="0.22" transform="translate(37.50 246.78) scale(0.9 1)">100</text>
<line x1="39.30" y1="225.74" x2="41.90" y2="225.74" stroke="#444" stroke-width="0.8"/>
<text x="0" y="0" font-size="7.1" text-anchor="end" fill="#111" stroke="#111" stroke-width="0.22" transform="translate(37.50 228.47) scale(0.9 1)">120</text>
<line x1="39.30" y1="207.43" x2="41.90" y2="207.43" stroke="#444" stroke-width="0.8"/>
<text x="0" y="0" font-size="7.1" text-anchor="end" fill="#111" stroke="#111" stroke-width="0.22" transform="translate(37.50 210.16) scale(0.9 1)">140</text>
<text x="0" y="0" font-size="7.85" text-anchor="middle" fill="#111" stroke="#111" stroke-width="0.22" transform="translate(22.10 268.50) rotate(-90) scale(1.0 1)">% Maximum fibrinogen binding</text>
<line x1="51.20" y1="345.50" x2="169.80" y2="345.50" stroke="#3a3a3a" stroke-width="0.8"/>
<line x1="51.50" y1="345.50" x2="51.50" y2="347.90" stroke="#3a3a3a" stroke-width="0.8"/>
<text x="50.90" y="355.50" font-size="7.0" text-anchor="middle" fill="#111" stroke="#111" stroke-width="0.22">-7.0</text>
<line x1="81.00" y1="345.50" x2="81.00" y2="347.90" stroke="#3a3a3a" stroke-width="0.8"/>
<text x="80.40" y="355.50" font-size="7.0" text-anchor="middle" fill="#111" stroke="#111" stroke-width="0.22">-6.5</text>
<line x1="110.50" y1="345.50" x2="110.50" y2="347.90" stroke="#3a3a3a" stroke-width="0.8"/>
<text x="109.90" y="355.50" font-size="7.0" text-anchor="middle" fill="#111" stroke="#111" stroke-width="0.22">-6.0</text>
<line x1="140.00" y1="345.50" x2="140.00" y2="347.90" stroke="#3a3a3a" stroke-width="0.8"/>
<text x="139.40" y="355.50" font-size="7.0" text-anchor="middle" fill="#111" stroke="#111" stroke-width="0.22">-5.5</text>
<line x1="169.50" y1="345.50" x2="169.50" y2="347.90" stroke="#3a3a3a" stroke-width="0.8"/>
<text x="168.90" y="355.50" font-size="7.0" text-anchor="middle" fill="#111" stroke="#111" stroke-width="0.22">-5.0</text>
<text x="110.00" y="364.90" font-size="7.6" text-anchor="middle" fill="#111" stroke="#111" stroke-width="0.22">Log[SFLLRN]M</text>
<path d="M75.10,330.45 L76.38,329.95 L77.66,329.34 L78.94,328.62 L80.21,327.76 L81.49,326.74 L82.77,325.52 L84.05,324.09 L85.33,322.40 L86.61,320.44 L87.88,318.18 L89.16,315.58 L90.44,312.64 L91.72,309.34 L93.00,305.69 L94.28,301.71 L95.55,297.44 L96.83,292.93 L98.11,288.26 L99.39,283.51 L100.67,278.76 L101.95,274.11 L103.22,269.64 L104.50,265.41 L105.78,261.48 L107.06,257.88 L108.34,254.63 L109.62,251.74 L110.89,249.20 L112.17,246.98 L113.45,245.07 L114.73,243.43 L116.01,242.03 L117.29,240.84 L118.56,239.84 L119.84,239.01 L121.12,238.30 L122.40,237.72 L123.68,237.23 L124.96,236.83 L126.23,236.49 L127.51,236.21 L128.79,235.98 L130.07,235.79 L131.35,235.63 L132.62,235.50 L133.90,235.40 L135.18,235.31 L136.46,235.24 L137.74,235.18 L139.02,235.13 L140.30,235.09 L141.57,235.05 L142.85,235.02 L144.13,235.00 L145.41,234.98 L146.69,234.97 L147.96,234.95 L149.24,234.94 L150.52,234.94 L151.80,234.93" fill="none" stroke="#111" stroke-width="1.0" stroke-linejoin="round" stroke-linecap="round"/>
<path d="M75.10,334.05 L76.38,334.00 L77.66,333.94 L78.94,333.87 L80.21,333.78 L81.49,333.66 L82.77,333.52 L84.05,333.33 L85.33,333.11 L86.61,332.82 L87.88,332.47 L89.16,332.02 L90.44,331.47 L91.72,330.79 L93.00,329.95 L94.28,328.91 L95.55,327.64 L96.83,326.10 L98.11,324.24 L99.39,322.01 L100.67,319.39 L101.95,316.33 L103.22,312.83 L104.50,308.88 L105.78,304.53 L107.06,299.84 L108.34,294.90 L109.62,289.83 L110.89,284.75 L112.17,279.81 L113.45,275.12 L114.73,270.77 L116.01,266.82 L117.29,263.32 L118.56,260.26 L119.84,257.64 L121.12,255.41 L122.40,253.55 L123.68,252.01 L124.96,250.74 L126.23,249.70 L127.51,248.86 L128.79,248.18 L130.07,247.63 L131.35,247.18 L132.62,246.83 L133.90,246.54 L135.18,246.32 L136.46,246.13 L137.74,245.99 L139.02,245.87 L140.30,245.78 L141.57,245.71 L142.85,245.65 L144.13,245.60 L145.41,245.57 L146.69,245.54 L147.96,245.51 L149.24,245.50 L150.52,245.48 L151.80,245.47" fill="none" stroke="#111" stroke-width="1.2" stroke-linejoin="round" stroke-linecap="round"/>
<path d="M75.10,334.55 L76.38,334.52 L77.66,334.47 L78.94,334.42 L80.21,334.35 L81.49,334.27 L82.77,334.16 L84.05,334.03 L85.33,333.86 L86.61,333.65 L87.88,333.39 L89.16,333.06 L90.44,332.65 L91.72,332.14 L93.00,331.51 L94.28,330.74 L95.55,329.78 L96.83,328.61 L98.11,327.19 L99.39,325.48 L100.67,323.43 L101.95,321.02 L103.22,318.22 L104.50,315.01 L105.78,311.40 L107.06,307.43 L108.34,303.15 L109.62,298.65 L110.89,294.05 L112.17,289.45 L113.45,284.98 L114.73,280.74 L116.01,276.82 L117.29,273.27 L118.56,270.13 L119.84,267.38 L121.12,265.03 L122.40,263.04 L123.68,261.38 L124.96,260.00 L126.23,258.86 L127.51,257.94 L128.79,257.18 L130.07,256.58 L131.35,256.08 L132.62,255.69 L133.90,255.37 L135.18,255.12 L136.46,254.92 L137.74,254.75 L139.02,254.63 L140.30,254.52 L141.57,254.44 L142.85,254.37 L144.13,254.32 L145.41,254.28 L146.69,254.25 L147.96,254.22 L149.24,254.20 L150.52,254.18 L151.80,254.17" fill="none" stroke="#111" stroke-width="1.2" stroke-linejoin="round" stroke-linecap="round"/>
<path d="M75.10,333.58 L76.38,333.53 L77.66,333.47 L78.94,333.39 L80.21,333.29 L81.49,333.17 L82.77,333.02 L84.05,332.83 L85.33,332.59 L86.61,332.29 L87.88,331.91 L89.16,331.45 L90.44,330.87 L91.72,330.16 L93.00,329.28 L94.28,328.20 L95.55,326.89 L96.83,325.31 L98.11,323.41 L99.39,321.15 L100.67,318.52 L101.95,315.48 L103.22,312.04 L104.50,308.23 L105.78,304.08 L107.06,299.68 L108.34,295.13 L109.62,290.54 L110.89,286.03 L112.17,281.72 L113.45,277.69 L114.73,274.02 L116.01,270.73 L117.29,267.85 L118.56,265.37 L119.84,263.26 L121.12,261.48 L122.40,260.00 L123.68,258.79 L124.96,257.79 L126.23,256.98 L127.51,256.32 L128.79,255.79 L130.07,255.36 L131.35,255.02 L132.62,254.75 L133.90,254.53 L135.18,254.35 L136.46,254.21 L137.74,254.10 L139.02,254.01 L140.30,253.94 L141.57,253.88 L142.85,253.84 L144.13,253.80 L145.41,253.77 L146.69,253.75 L147.96,253.73 L149.24,253.72 L150.52,253.71 L151.80,253.70" fill="none" stroke="#111" stroke-width="1.2" stroke-linejoin="round" stroke-linecap="round"/>
<rect x="73.52" y="328.98" width="3.16" height="3.16" fill="#fff" stroke="#111" stroke-width="0.9"/>
<rect x="91.22" y="306.10" width="3.16" height="3.16" fill="#fff" stroke="#111" stroke-width="0.9"/>
<rect x="108.92" y="248.88" width="3.16" height="3.16" fill="#fff" stroke="#111" stroke-width="0.9"/>
<rect x="126.62" y="232.86" width="3.16" height="3.16" fill="#fff" stroke="#111" stroke-width="0.9"/>
<rect x="137.24" y="236.06" width="3.16" height="3.16" fill="#fff" stroke="#111" stroke-width="0.9"/>
<rect x="150.22" y="231.48" width="3.16" height="3.16" fill="#fff" stroke="#111" stroke-width="0.9"/>
<circle cx="75.10" cy="333.77" r="1.58" fill="#fff" stroke="#111" stroke-width="0.9"/>
<circle cx="92.80" cy="330.11" r="1.58" fill="#fff" stroke="#111" stroke-width="0.9"/>
<circle cx="110.50" cy="282.50" r="1.58" fill="#fff" stroke="#111" stroke-width="0.9"/>
<circle cx="128.20" cy="254.12" r="1.58" fill="#fff" stroke="#111" stroke-width="0.9"/>
<circle cx="138.82" cy="255.95" r="1.58" fill="#fff" stroke="#111" stroke-width="0.9"/>
<circle cx="151.80" cy="253.21" r="1.58" fill="#fff" stroke="#111" stroke-width="0.9"/>
<line x1="75.10" y1="329.19" x2="75.10" y2="331.94" stroke="#111" stroke-width="0.8"/>
<line x1="73.10" y1="329.19" x2="77.10" y2="329.19" stroke="#111" stroke-width="0.8"/>
<line x1="73.10" y1="331.94" x2="77.10" y2="331.94" stroke="#111" stroke-width="0.8"/>
<line x1="92.80" y1="304.47" x2="92.80" y2="310.88" stroke="#111" stroke-width="0.8"/>
<line x1="90.80" y1="304.47" x2="94.80" y2="304.47" stroke="#111" stroke-width="0.8"/>
<line x1="90.80" y1="310.88" x2="94.80" y2="310.88" stroke="#111" stroke-width="0.8"/>
<line x1="128.20" y1="230.78" x2="128.20" y2="238.10" stroke="#111" stroke-width="0.8"/>
<line x1="126.20" y1="230.78" x2="130.20" y2="230.78" stroke="#111" stroke-width="0.8"/>
<line x1="126.20" y1="238.10" x2="130.20" y2="238.10" stroke="#111" stroke-width="0.8"/>
<line x1="151.80" y1="228.49" x2="151.80" y2="237.64" stroke="#111" stroke-width="0.8"/>
<line x1="149.80" y1="228.49" x2="153.80" y2="228.49" stroke="#111" stroke-width="0.8"/>
<line x1="149.80" y1="237.64" x2="153.80" y2="237.64" stroke="#111" stroke-width="0.8"/>
<line x1="110.50" y1="278.84" x2="110.50" y2="291.66" stroke="#111" stroke-width="0.8"/>
<line x1="108.50" y1="278.84" x2="112.50" y2="278.84" stroke="#111" stroke-width="0.8"/>
<line x1="108.50" y1="291.66" x2="112.50" y2="291.66" stroke="#111" stroke-width="0.8"/>
<line x1="110.50" y1="282.50" x2="110.50" y2="293.49" stroke="#111" stroke-width="0.8"/>
<line x1="108.50" y1="282.50" x2="112.50" y2="282.50" stroke="#111" stroke-width="0.8"/>
<line x1="108.50" y1="293.49" x2="112.50" y2="293.49" stroke="#111" stroke-width="0.8"/>
<line x1="128.20" y1="253.21" x2="128.20" y2="256.87" stroke="#111" stroke-width="0.8"/>
<line x1="126.20" y1="253.21" x2="130.20" y2="253.21" stroke="#111" stroke-width="0.8"/>
<line x1="126.20" y1="256.87" x2="130.20" y2="256.87" stroke="#111" stroke-width="0.8"/>
<line x1="138.82" y1="250.00" x2="138.82" y2="261.90" stroke="#111" stroke-width="0.8"/>
<line x1="136.82" y1="250.00" x2="140.82" y2="250.00" stroke="#111" stroke-width="0.8"/>
<line x1="136.82" y1="261.90" x2="140.82" y2="261.90" stroke="#111" stroke-width="0.8"/>
<line x1="151.80" y1="248.63" x2="151.80" y2="254.12" stroke="#111" stroke-width="0.8"/>
<line x1="149.80" y1="248.63" x2="153.80" y2="248.63" stroke="#111" stroke-width="0.8"/>
<line x1="149.80" y1="254.12" x2="153.80" y2="254.12" stroke="#111" stroke-width="0.8"/>
<line x1="110.50" y1="277.92" x2="110.50" y2="287.08" stroke="#111" stroke-width="0.8"/>
<line x1="108.50" y1="277.92" x2="112.50" y2="277.92" stroke="#111" stroke-width="0.8"/>
<line x1="108.50" y1="287.08" x2="112.50" y2="287.08" stroke="#111" stroke-width="0.8"/>
<line x1="128.20" y1="251.37" x2="128.20" y2="256.87" stroke="#111" stroke-width="0.8"/>
<line x1="126.20" y1="251.37" x2="130.20" y2="251.37" stroke="#111" stroke-width="0.8"/>
<line x1="126.20" y1="256.87" x2="130.20" y2="256.87" stroke="#111" stroke-width="0.8"/>
<rect x="73.30" y="332.43" width="3.6" height="3.6" fill="#111"/>
<rect x="91.00" y="328.31" width="3.6" height="3.6" fill="#111"/>
<rect x="108.70" y="283.45" width="3.6" height="3.6" fill="#111"/>
<rect x="126.40" y="245.00" width="3.6" height="3.6" fill="#111"/>
<rect x="137.02" y="242.25" width="3.6" height="3.6" fill="#111"/>
<rect x="150.00" y="246.83" width="3.6" height="3.6" fill="#111"/>
<circle cx="75.10" cy="334.68" r="1.80" fill="#111"/>
<circle cx="92.80" cy="331.02" r="1.80" fill="#111"/>
<circle cx="110.50" cy="287.99" r="1.80" fill="#111"/>
<circle cx="128.20" cy="255.04" r="1.80" fill="#111"/>
<circle cx="138.82" cy="255.95" r="1.80" fill="#111"/>
<circle cx="151.80" cy="251.37" r="1.80" fill="#111"/>
<rect x="175.30" y="211.40" width="3.8" height="3.8" fill="#111"/>
<text x="186.00" y="216.05" font-size="7.85" text-anchor="start" fill="#111" stroke="#111" stroke-width="0.22">Vehicle</text>
<rect x="175.53" y="222.43" width="3.34" height="3.34" fill="#fff" stroke="#111" stroke-width="1.1"/>
<text x="186.00" y="226.85" font-size="7.85" text-anchor="start" fill="#111" stroke="#111" stroke-width="0.22">TPO</text>
<circle cx="177.20" cy="234.90" r="1.90" fill="#111"/>
<text x="186.00" y="237.65" font-size="7.85" text-anchor="start" fill="#111" stroke="#111" stroke-width="0.22">JAK2i IV</text>
<circle cx="177.20" cy="245.70" r="1.67" fill="#fff" stroke="#111" stroke-width="1.1"/>
<text x="186.00" y="248.45" font-size="7.85" text-anchor="start" fill="#111" stroke="#111" stroke-width="0.22">TPO + JAK2i IV</text>
<text x="265.20" y="197.50" font-size="17.0" font-weight="bold" text-anchor="start" fill="#000" stroke="#000" stroke-width="0.25">D</text>
<text x="292.00" y="197.70" font-size="10.6" text-anchor="start" fill="#111" stroke="#111" stroke-width="0.28">Fibrinogen binding: Wortmannin-TPO</text>
<line x1="298.90" y1="205.98" x2="298.90" y2="334.50" stroke="#8c8c8c" stroke-width="1.3"/>
<line x1="296.30" y1="334.50" x2="298.90" y2="334.50" stroke="#444" stroke-width="0.8"/>
<text x="0" y="0" font-size="7.1" text-anchor="end" fill="#111" stroke="#111" stroke-width="0.22" transform="translate(294.90 337.23) scale(0.9 1)">0</text>
<line x1="296.30" y1="316.14" x2="298.90" y2="316.14" stroke="#444" stroke-width="0.8"/>
<text x="0" y="0" font-size="7.1" text-anchor="end" fill="#111" stroke="#111" stroke-width="0.22" transform="translate(294.90 318.87) scale(0.9 1)">20</text>
<line x1="296.30" y1="297.78" x2="298.90" y2="297.78" stroke="#444" stroke-width="0.8"/>
<text x="0" y="0" font-size="7.1" text-anchor="end" fill="#111" stroke="#111" stroke-width="0.22" transform="translate(294.90 300.51) scale(0.9 1)">40</text>
<line x1="296.30" y1="279.42" x2="298.90" y2="279.42" stroke="#444" stroke-width="0.8"/>
<text x="0" y="0" font-size="7.1" text-anchor="end" fill="#111" stroke="#111" stroke-width="0.22" transform="translate(294.90 282.15) scale(0.9 1)">60</text>
<line x1="296.30" y1="261.06" x2="298.90" y2="261.06" stroke="#444" stroke-width="0.8"/>
<text x="0" y="0" font-size="7.1" text-anchor="end" fill="#111" stroke="#111" stroke-width="0.22" transform="translate(294.90 263.79) scale(0.9 1)">80</text>
<line x1="296.30" y1="242.70" x2="298.90" y2="242.70" stroke="#444" stroke-width="0.8"/>
<text x="0" y="0" font-size="7.1" text-anchor="end" fill="#111" stroke="#111" stroke-width="0.22" transform="translate(294.90 245.43) scale(0.9 1)">100</text>
<line x1="296.30" y1="224.34" x2="298.90" y2="224.34" stroke="#444" stroke-width="0.8"/>
<text x="0" y="0" font-size="7.1" text-anchor="end" fill="#111" stroke="#111" stroke-width="0.22" transform="translate(294.90 227.07) scale(0.9 1)">120</text>
<line x1="296.30" y1="205.98" x2="298.90" y2="205.98" stroke="#444" stroke-width="0.8"/>
<text x="0" y="0" font-size="7.1" text-anchor="end" fill="#111" stroke="#111" stroke-width="0.22" transform="translate(294.90 208.71) scale(0.9 1)">140</text>
<text x="0" y="0" font-size="7.85" text-anchor="middle" fill="#111" stroke="#111" stroke-width="0.22" transform="translate(280.30 267.50) rotate(-90) scale(1.0 1)">% Maximum fibrinogen binding</text>
<line x1="307.80" y1="343.60" x2="434.40" y2="343.60" stroke="#3a3a3a" stroke-width="0.8"/>
<line x1="308.10" y1="343.60" x2="308.10" y2="346.00" stroke="#3a3a3a" stroke-width="0.8"/>
<text x="308.40" y="353.30" font-size="7.0" text-anchor="middle" fill="#111" stroke="#111" stroke-width="0.22">-7.0</text>
<line x1="333.30" y1="343.60" x2="333.30" y2="346.00" stroke="#3a3a3a" stroke-width="0.8"/>
<text x="333.60" y="353.30" font-size="7.0" text-anchor="middle" fill="#111" stroke="#111" stroke-width="0.22">-6.5</text>
<line x1="358.50" y1="343.60" x2="358.50" y2="346.00" stroke="#3a3a3a" stroke-width="0.8"/>
<text x="358.80" y="353.30" font-size="7.0" text-anchor="middle" fill="#111" stroke="#111" stroke-width="0.22">-6.0</text>
<line x1="383.70" y1="343.60" x2="383.70" y2="346.00" stroke="#3a3a3a" stroke-width="0.8"/>
<text x="384.00" y="353.30" font-size="7.0" text-anchor="middle" fill="#111" stroke="#111" stroke-width="0.22">-5.5</text>
<line x1="408.90" y1="343.60" x2="408.90" y2="346.00" stroke="#3a3a3a" stroke-width="0.8"/>
<text x="409.20" y="353.30" font-size="7.0" text-anchor="middle" fill="#111" stroke="#111" stroke-width="0.22">-5.0</text>
<line x1="434.10" y1="343.60" x2="434.10" y2="346.00" stroke="#3a3a3a" stroke-width="0.8"/>
<text x="434.40" y="353.30" font-size="7.0" text-anchor="middle" fill="#111" stroke="#111" stroke-width="0.22">-4.5</text>
<text x="372.00" y="363.40" font-size="7.6" text-anchor="middle" fill="#111" stroke="#111" stroke-width="0.22">Log[SFLLRN]M</text>
<path d="M327.66,332.19 L329.00,331.98 L330.35,331.74 L331.69,331.45 L333.04,331.09 L334.38,330.66 L335.72,330.14 L337.07,329.51 L338.41,328.76 L339.76,327.86 L341.10,326.78 L342.44,325.51 L343.79,324.00 L345.13,322.22 L346.48,320.14 L347.82,317.74 L349.16,314.97 L350.51,311.82 L351.85,308.29 L353.20,304.36 L354.54,300.08 L355.88,295.46 L357.23,290.58 L358.57,285.51 L359.92,280.34 L361.26,275.17 L362.60,270.10 L363.95,265.22 L365.29,260.60 L366.64,256.31 L367.98,252.39 L369.32,248.85 L370.67,245.71 L372.01,242.94 L373.36,240.53 L374.70,238.46 L376.04,236.68 L377.39,235.17 L378.73,233.89 L380.08,232.82 L381.42,231.92 L382.76,231.17 L384.11,230.54 L385.45,230.02 L386.80,229.59 L388.14,229.23 L389.48,228.93 L390.83,228.69 L392.17,228.49 L393.52,228.32 L394.86,228.19 L396.20,228.07 L397.55,227.98 L398.89,227.91 L400.24,227.84 L401.58,227.79 L402.92,227.75 L404.27,227.71 L405.61,227.69 L406.96,227.66 L408.30,227.64" fill="none" stroke="#111" stroke-width="1.2" stroke-linejoin="round" stroke-linecap="round"/>
<path d="M327.66,333.57 L329.00,333.57 L330.35,333.57 L331.69,333.56 L333.04,333.55 L334.38,333.54 L335.72,333.52 L337.07,333.50 L338.41,333.48 L339.76,333.44 L341.10,333.38 L342.44,333.31 L343.79,333.22 L345.13,333.09 L346.48,332.91 L347.82,332.67 L349.16,332.35 L350.51,331.92 L351.85,331.33 L353.20,330.55 L354.54,329.51 L355.88,328.13 L357.23,326.33 L358.57,324.00 L359.92,321.02 L361.26,317.31 L362.60,312.79 L363.95,307.44 L365.29,301.35 L366.64,294.67 L367.98,287.68 L369.32,280.69 L370.67,274.02 L372.01,267.92 L373.36,262.58 L374.70,258.05 L376.04,254.34 L377.39,251.37 L378.73,249.03 L380.08,247.23 L381.42,245.85 L382.76,244.81 L384.11,244.03 L385.45,243.45 L386.80,243.01 L388.14,242.69 L389.48,242.45 L390.83,242.28 L392.17,242.15 L393.52,242.05 L394.86,241.98 L396.20,241.93 L397.55,241.89 L398.89,241.86 L400.24,241.84 L401.58,241.82 L402.92,241.81 L404.27,241.81 L405.61,241.80 L406.96,241.79 L408.30,241.79" fill="none" stroke="#111" stroke-width="1.2" stroke-linejoin="round" stroke-linecap="round"/>
<path d="M327.66,333.55 L329.00,333.54 L330.35,333.53 L331.69,333.52 L333.04,333.50 L334.38,333.48 L335.72,333.44 L337.07,333.40 L338.41,333.35 L339.76,333.28 L341.10,333.20 L342.44,333.08 L343.79,332.94 L345.13,332.75 L346.48,332.51 L347.82,332.21 L349.16,331.82 L350.51,331.32 L351.85,330.69 L353.20,329.89 L354.54,328.90 L355.88,327.67 L357.23,326.16 L358.57,324.34 L359.92,322.18 L361.26,319.67 L362.60,316.81 L363.95,313.65 L365.29,310.25 L366.64,306.71 L367.98,303.14 L369.32,299.65 L370.67,296.36 L372.01,293.34 L373.36,290.65 L374.70,288.32 L376.04,286.33 L377.39,284.67 L378.73,283.31 L380.08,282.20 L381.42,281.31 L382.76,280.60 L384.11,280.04 L385.45,279.60 L386.80,279.25 L388.14,278.98 L389.48,278.77 L390.83,278.61 L392.17,278.48 L393.52,278.38 L394.86,278.31 L396.20,278.25 L397.55,278.20 L398.89,278.16 L400.24,278.14 L401.58,278.12 L402.92,278.10 L404.27,278.09 L405.61,278.08 L406.96,278.07 L408.30,278.06" fill="none" stroke="#111" stroke-width="1.2" stroke-linejoin="round" stroke-linecap="round"/>
<path d="M327.66,333.07 L329.00,333.06 L330.35,333.04 L331.69,333.01 L333.04,332.98 L334.38,332.94 L335.72,332.89 L337.07,332.83 L338.41,332.75 L339.76,332.64 L341.10,332.51 L342.44,332.34 L343.79,332.13 L345.13,331.86 L346.48,331.51 L347.82,331.08 L349.16,330.54 L350.51,329.86 L351.85,329.01 L353.20,327.97 L354.54,326.69 L355.88,325.15 L357.23,323.30 L358.57,321.13 L359.92,318.62 L361.26,315.79 L362.60,312.65 L363.95,309.29 L365.29,305.76 L366.64,302.19 L367.98,298.67 L369.32,295.30 L370.67,292.17 L372.01,289.33 L373.36,286.82 L374.70,284.65 L376.04,282.80 L377.39,281.26 L378.73,279.98 L380.08,278.94 L381.42,278.10 L382.76,277.42 L384.11,276.87 L385.45,276.44 L386.80,276.10 L388.14,275.83 L389.48,275.61 L390.83,275.44 L392.17,275.31 L393.52,275.21 L394.86,275.13 L396.20,275.06 L397.55,275.01 L398.89,274.97 L400.24,274.94 L401.58,274.92 L402.92,274.90 L404.27,274.88 L405.61,274.87 L406.96,274.86 L408.30,274.86" fill="none" stroke="#111" stroke-width="1.2" stroke-linejoin="round" stroke-linecap="round"/>
<rect x="326.08" y="331.08" width="3.16" height="3.16" fill="#fff" stroke="#111" stroke-width="0.9"/>
<rect x="341.20" y="326.04" width="3.16" height="3.16" fill="#fff" stroke="#111" stroke-width="0.9"/>
<rect x="356.32" y="286.10" width="3.16" height="3.16" fill="#fff" stroke="#111" stroke-width="0.9"/>
<rect x="371.44" y="235.61" width="3.16" height="3.16" fill="#fff" stroke="#111" stroke-width="0.9"/>
<rect x="380.51" y="225.97" width="3.16" height="3.16" fill="#fff" stroke="#111" stroke-width="0.9"/>
<rect x="391.60" y="224.60" width="3.16" height="3.16" fill="#fff" stroke="#111" stroke-width="0.9"/>
<rect x="406.72" y="229.19" width="3.16" height="3.16" fill="#fff" stroke="#111" stroke-width="0.9"/>
<circle cx="327.66" cy="332.66" r="1.58" fill="#fff" stroke="#111" stroke-width="0.9"/>
<circle cx="342.78" cy="331.75" r="1.58" fill="#fff" stroke="#111" stroke-width="0.9"/>
<circle cx="357.90" cy="323.48" r="1.58" fill="#fff" stroke="#111" stroke-width="0.9"/>
<circle cx="373.02" cy="287.68" r="1.58" fill="#fff" stroke="#111" stroke-width="0.9"/>
<circle cx="382.09" cy="278.50" r="1.58" fill="#fff" stroke="#111" stroke-width="0.9"/>
<circle cx="393.18" cy="275.75" r="1.58" fill="#fff" stroke="#111" stroke-width="0.9"/>
<circle cx="408.30" cy="274.83" r="1.58" fill="#fff" stroke="#111" stroke-width="0.9"/>
<line x1="357.90" y1="277.58" x2="357.90" y2="297.78" stroke="#111" stroke-width="0.8"/>
<line x1="355.90" y1="277.58" x2="359.90" y2="277.58" stroke="#111" stroke-width="0.8"/>
<line x1="355.90" y1="297.78" x2="359.90" y2="297.78" stroke="#111" stroke-width="0.8"/>
<line x1="373.02" y1="229.85" x2="373.02" y2="244.54" stroke="#111" stroke-width="0.8"/>
<line x1="371.02" y1="229.85" x2="375.02" y2="229.85" stroke="#111" stroke-width="0.8"/>
<line x1="371.02" y1="244.54" x2="375.02" y2="244.54" stroke="#111" stroke-width="0.8"/>
<line x1="382.09" y1="222.96" x2="382.09" y2="232.14" stroke="#111" stroke-width="0.8"/>
<line x1="380.09" y1="222.96" x2="384.09" y2="222.96" stroke="#111" stroke-width="0.8"/>
<line x1="380.09" y1="232.14" x2="384.09" y2="232.14" stroke="#111" stroke-width="0.8"/>
<line x1="393.18" y1="220.67" x2="393.18" y2="231.68" stroke="#111" stroke-width="0.8"/>
<line x1="391.18" y1="220.67" x2="395.18" y2="220.67" stroke="#111" stroke-width="0.8"/>
<line x1="391.18" y1="231.68" x2="395.18" y2="231.68" stroke="#111" stroke-width="0.8"/>
<line x1="408.30" y1="228.01" x2="408.30" y2="233.52" stroke="#111" stroke-width="0.8"/>
<line x1="406.30" y1="228.01" x2="410.30" y2="228.01" stroke="#111" stroke-width="0.8"/>
<line x1="406.30" y1="233.52" x2="410.30" y2="233.52" stroke="#111" stroke-width="0.8"/>
<line x1="357.90" y1="321.65" x2="357.90" y2="328.99" stroke="#111" stroke-width="0.8"/>
<line x1="355.90" y1="321.65" x2="359.90" y2="321.65" stroke="#111" stroke-width="0.8"/>
<line x1="355.90" y1="328.99" x2="359.90" y2="328.99" stroke="#111" stroke-width="0.8"/>
<line x1="373.02" y1="255.55" x2="373.02" y2="270.24" stroke="#111" stroke-width="0.8"/>
<line x1="371.02" y1="255.55" x2="375.02" y2="255.55" stroke="#111" stroke-width="0.8"/>
<line x1="371.02" y1="270.24" x2="375.02" y2="270.24" stroke="#111" stroke-width="0.8"/>
<line x1="382.09" y1="242.70" x2="382.09" y2="246.37" stroke="#111" stroke-width="0.8"/>
<line x1="380.09" y1="242.70" x2="384.09" y2="242.70" stroke="#111" stroke-width="0.8"/>
<line x1="380.09" y1="246.37" x2="384.09" y2="246.37" stroke="#111" stroke-width="0.8"/>
<line x1="357.90" y1="324.40" x2="357.90" y2="329.91" stroke="#111" stroke-width="0.8"/>
<line x1="355.90" y1="324.40" x2="359.90" y2="324.40" stroke="#111" stroke-width="0.8"/>
<line x1="355.90" y1="329.91" x2="359.90" y2="329.91" stroke="#111" stroke-width="0.8"/>
<line x1="373.02" y1="282.17" x2="373.02" y2="300.53" stroke="#111" stroke-width="0.8"/>
<line x1="371.02" y1="282.17" x2="375.02" y2="282.17" stroke="#111" stroke-width="0.8"/>
<line x1="371.02" y1="300.53" x2="375.02" y2="300.53" stroke="#111" stroke-width="0.8"/>
<line x1="382.09" y1="273.91" x2="382.09" y2="288.60" stroke="#111" stroke-width="0.8"/>
<line x1="380.09" y1="273.91" x2="384.09" y2="273.91" stroke="#111" stroke-width="0.8"/>
<line x1="380.09" y1="288.60" x2="384.09" y2="288.60" stroke="#111" stroke-width="0.8"/>
<line x1="393.18" y1="272.99" x2="393.18" y2="282.17" stroke="#111" stroke-width="0.8"/>
<line x1="391.18" y1="272.99" x2="395.18" y2="272.99" stroke="#111" stroke-width="0.8"/>
<line x1="391.18" y1="282.17" x2="395.18" y2="282.17" stroke="#111" stroke-width="0.8"/>
<line x1="408.30" y1="273.91" x2="408.30" y2="283.09" stroke="#111" stroke-width="0.8"/>
<line x1="406.30" y1="273.91" x2="410.30" y2="273.91" stroke="#111" stroke-width="0.8"/>
<line x1="406.30" y1="283.09" x2="410.30" y2="283.09" stroke="#111" stroke-width="0.8"/>
<line x1="357.90" y1="318.89" x2="357.90" y2="328.07" stroke="#111" stroke-width="0.8"/>
<line x1="355.90" y1="318.89" x2="359.90" y2="318.89" stroke="#111" stroke-width="0.8"/>
<line x1="355.90" y1="328.07" x2="359.90" y2="328.07" stroke="#111" stroke-width="0.8"/>
<line x1="373.02" y1="278.50" x2="373.02" y2="296.86" stroke="#111" stroke-width="0.8"/>
<line x1="371.02" y1="278.50" x2="375.02" y2="278.50" stroke="#111" stroke-width="0.8"/>
<line x1="371.02" y1="296.86" x2="375.02" y2="296.86" stroke="#111" stroke-width="0.8"/>
<line x1="382.09" y1="273.91" x2="382.09" y2="283.09" stroke="#111" stroke-width="0.8"/>
<line x1="380.09" y1="273.91" x2="384.09" y2="273.91" stroke="#111" stroke-width="0.8"/>
<line x1="380.09" y1="283.09" x2="384.09" y2="283.09" stroke="#111" stroke-width="0.8"/>
<line x1="393.18" y1="272.08" x2="393.18" y2="279.42" stroke="#111" stroke-width="0.8"/>
<line x1="391.18" y1="272.08" x2="395.18" y2="272.08" stroke="#111" stroke-width="0.8"/>
<line x1="391.18" y1="279.42" x2="395.18" y2="279.42" stroke="#111" stroke-width="0.8"/>
<line x1="408.30" y1="269.32" x2="408.30" y2="280.34" stroke="#111" stroke-width="0.8"/>
<line x1="406.30" y1="269.32" x2="410.30" y2="269.32" stroke="#111" stroke-width="0.8"/>
<line x1="406.30" y1="280.34" x2="410.30" y2="280.34" stroke="#111" stroke-width="0.8"/>
<rect x="325.86" y="331.78" width="3.6" height="3.6" fill="#111"/>
<rect x="340.98" y="330.86" width="3.6" height="3.6" fill="#111"/>
<rect x="356.10" y="323.52" width="3.6" height="3.6" fill="#111"/>
<rect x="371.22" y="261.10" width="3.6" height="3.6" fill="#111"/>
<rect x="380.29" y="242.74" width="3.6" height="3.6" fill="#111"/>
<rect x="391.38" y="239.98" width="3.6" height="3.6" fill="#111"/>
<rect x="406.50" y="240.44" width="3.6" height="3.6" fill="#111"/>
<circle cx="327.66" cy="333.58" r="1.80" fill="#111"/>
<circle cx="342.78" cy="332.66" r="1.80" fill="#111"/>
<circle cx="357.90" cy="327.16" r="1.80" fill="#111"/>
<circle cx="373.02" cy="291.35" r="1.80" fill="#111"/>
<circle cx="382.09" cy="281.26" r="1.80" fill="#111"/>
<circle cx="393.18" cy="277.58" r="1.80" fill="#111"/>
<circle cx="408.30" cy="278.50" r="1.80" fill="#111"/>
<rect x="439.40" y="210.60" width="3.8" height="3.8" fill="#111"/>
<text x="450.20" y="215.25" font-size="7.45" text-anchor="start" fill="#111" stroke="#111" stroke-width="0.22">Vehicle</text>
<rect x="439.63" y="221.58" width="3.34" height="3.34" fill="#fff" stroke="#111" stroke-width="1.1"/>
<text x="450.20" y="226.00" font-size="7.45" text-anchor="start" fill="#111" stroke="#111" stroke-width="0.22">Vehicle + TPO</text>
<circle cx="441.30" cy="234.00" r="1.90" fill="#111"/>
<text x="450.20" y="236.75" font-size="7.45" text-anchor="start" fill="#111" stroke="#111" stroke-width="0.22">WTM</text>
<circle cx="441.30" cy="244.75" r="1.67" fill="#fff" stroke="#111" stroke-width="1.1"/>
<text x="450.20" y="247.50" font-size="7.45" text-anchor="start" fill="#111" stroke="#111" stroke-width="0.22">WTM + TPO</text>
<text x="1.40" y="382.00" font-size="17.0" font-weight="bold" text-anchor="start" fill="#000" stroke="#000" stroke-width="0.25">E</text>
<text x="25.00" y="382.00" font-size="10.6" text-anchor="start" fill="#111" stroke="#111" stroke-width="0.28">P-selectin expression: Wortmannin-TPO</text>
<line x1="49.70" y1="405.80" x2="49.70" y2="538.80" stroke="#8c8c8c" stroke-width="1.1"/>
<line x1="47.10" y1="530.00" x2="49.70" y2="530.00" stroke="#444" stroke-width="0.8"/>
<text x="0" y="0" font-size="7.6" text-anchor="end" fill="#111" stroke="#111" stroke-width="0.22" transform="translate(45.30 532.93) scale(0.85 1)">0</text>
<line x1="47.10" y1="509.30" x2="49.70" y2="509.30" stroke="#444" stroke-width="0.8"/>
<text x="0" y="0" font-size="7.6" text-anchor="end" fill="#111" stroke="#111" stroke-width="0.22" transform="translate(45.30 512.23) scale(0.85 1)">20</text>
<line x1="47.10" y1="488.60" x2="49.70" y2="488.60" stroke="#444" stroke-width="0.8"/>
<text x="0" y="0" font-size="7.6" text-anchor="end" fill="#111" stroke="#111" stroke-width="0.22" transform="translate(45.30 491.53) scale(0.85 1)">40</text>
<line x1="47.10" y1="467.90" x2="49.70" y2="467.90" stroke="#444" stroke-width="0.8"/>
<text x="0" y="0" font-size="7.6" text-anchor="end" fill="#111" stroke="#111" stroke-width="0.22" transform="translate(45.30 470.83) scale(0.85 1)">60</text>
<line x1="47.10" y1="447.20" x2="49.70" y2="447.20" stroke="#444" stroke-width="0.8"/>
<text x="0" y="0" font-size="7.6" text-anchor="end" fill="#111" stroke="#111" stroke-width="0.22" transform="translate(45.30 450.13) scale(0.85 1)">80</text>
<line x1="47.10" y1="426.50" x2="49.70" y2="426.50" stroke="#444" stroke-width="0.8"/>
<text x="0" y="0" font-size="7.6" text-anchor="end" fill="#111" stroke="#111" stroke-width="0.22" transform="translate(45.30 429.43) scale(0.85 1)">100</text>
<line x1="47.10" y1="405.80" x2="49.70" y2="405.80" stroke="#444" stroke-width="0.8"/>
<text x="0" y="0" font-size="7.6" text-anchor="end" fill="#111" stroke="#111" stroke-width="0.22" transform="translate(45.30 408.73) scale(0.85 1)">120</text>
<text x="0" y="0" font-size="7.5" text-anchor="middle" fill="#111" stroke="#111" stroke-width="0.22" transform="translate(29.60 470.80) rotate(-90) scale(1.09 1)">% Maximum P-selectin (CD62P) expression</text>
<line x1="58.70" y1="550.20" x2="194.30" y2="550.20" stroke="#3a3a3a" stroke-width="0.8"/>
<line x1="59.00" y1="550.20" x2="59.00" y2="552.60" stroke="#3a3a3a" stroke-width="0.8"/>
<text x="58.40" y="560.60" font-size="7.4" text-anchor="middle" fill="#111" stroke="#111" stroke-width="0.22">-7.0</text>
<line x1="86.00" y1="550.20" x2="86.00" y2="552.60" stroke="#3a3a3a" stroke-width="0.8"/>
<text x="85.40" y="560.60" font-size="7.4" text-anchor="middle" fill="#111" stroke="#111" stroke-width="0.22">-6.5</text>
<line x1="113.00" y1="550.20" x2="113.00" y2="552.60" stroke="#3a3a3a" stroke-width="0.8"/>
<text x="112.40" y="560.60" font-size="7.4" text-anchor="middle" fill="#111" stroke="#111" stroke-width="0.22">-6.0</text>
<line x1="140.00" y1="550.20" x2="140.00" y2="552.60" stroke="#3a3a3a" stroke-width="0.8"/>
<text x="139.40" y="560.60" font-size="7.4" text-anchor="middle" fill="#111" stroke="#111" stroke-width="0.22">-5.5</text>
<line x1="167.00" y1="550.20" x2="167.00" y2="552.60" stroke="#3a3a3a" stroke-width="0.8"/>
<text x="166.40" y="560.60" font-size="7.4" text-anchor="middle" fill="#111" stroke="#111" stroke-width="0.22">-5.0</text>
<line x1="194.00" y1="550.20" x2="194.00" y2="552.60" stroke="#3a3a3a" stroke-width="0.8"/>
<text x="193.40" y="560.60" font-size="7.4" text-anchor="middle" fill="#111" stroke="#111" stroke-width="0.22">-4.5</text>
<text x="125.80" y="571.10" font-size="7.6" text-anchor="middle" fill="#111" stroke="#111" stroke-width="0.22">Log[SFLLRN]M</text>
<path d="M80.60,529.85 L82.04,529.82 L83.48,529.78 L84.92,529.73 L86.36,529.67 L87.80,529.60 L89.24,529.51 L90.68,529.40 L92.12,529.27 L93.56,529.10 L95.00,528.91 L96.44,528.66 L97.88,528.37 L99.32,528.01 L100.76,527.57 L102.20,527.04 L103.64,526.40 L105.08,525.63 L106.52,524.70 L107.96,523.59 L109.40,522.26 L110.84,520.68 L112.28,518.82 L113.72,516.64 L115.16,514.12 L116.60,511.22 L118.04,507.93 L119.48,504.24 L120.92,500.17 L122.36,495.76 L123.80,491.05 L125.24,486.13 L126.68,481.07 L128.12,476.00 L129.56,470.99 L131.00,466.17 L132.44,461.60 L133.88,457.35 L135.32,453.47 L136.76,449.98 L138.20,446.89 L139.64,444.18 L141.08,441.83 L142.52,439.82 L143.96,438.10 L145.40,436.65 L146.84,435.44 L148.28,434.42 L149.72,433.57 L151.16,432.87 L152.60,432.28 L154.04,431.80 L155.48,431.41 L156.92,431.08 L158.36,430.81 L159.80,430.59 L161.24,430.41 L162.68,430.27 L164.12,430.15 L165.56,430.05 L167.00,429.97" fill="none" stroke="#111" stroke-width="1.2" stroke-linejoin="round" stroke-linecap="round"/>
<path d="M80.60,529.86 L82.04,529.84 L83.48,529.81 L84.92,529.77 L86.36,529.73 L87.80,529.68 L89.24,529.62 L90.68,529.55 L92.12,529.47 L93.56,529.37 L95.00,529.25 L96.44,529.11 L97.88,528.95 L99.32,528.75 L100.76,528.52 L102.20,528.25 L103.64,527.92 L105.08,527.54 L106.52,527.10 L107.96,526.57 L109.40,525.95 L110.84,525.23 L112.28,524.38 L113.72,523.40 L115.16,522.26 L116.60,520.94 L118.04,519.42 L119.48,517.67 L120.92,515.69 L122.36,513.45 L123.80,510.93 L125.24,508.14 L126.68,505.05 L128.12,501.69 L129.56,498.07 L131.00,494.22 L132.44,490.17 L133.88,485.97 L135.32,481.69 L136.76,477.38 L138.20,473.10 L139.64,468.92 L141.08,464.89 L142.52,461.07 L143.96,457.48 L145.40,454.15 L146.84,451.10 L148.28,448.34 L149.72,445.86 L151.16,443.65 L152.60,441.70 L154.04,439.99 L155.48,438.49 L156.92,437.19 L158.36,436.07 L159.80,435.11 L161.24,434.28 L162.68,433.57 L164.12,432.96 L165.56,432.45 L167.00,432.01" fill="none" stroke="#111" stroke-width="1.2" stroke-linejoin="round" stroke-linecap="round"/>
<path d="M80.60,529.86 L82.04,529.83 L83.48,529.80 L84.92,529.76 L86.36,529.71 L87.80,529.66 L89.24,529.59 L90.68,529.51 L92.12,529.42 L93.56,529.30 L95.00,529.17 L96.44,529.01 L97.88,528.82 L99.32,528.59 L100.76,528.32 L102.20,528.00 L103.64,527.62 L105.08,527.17 L106.52,526.63 L107.96,526.00 L109.40,525.26 L110.84,524.39 L112.28,523.37 L113.72,522.18 L115.16,520.79 L116.60,519.18 L118.04,517.34 L119.48,515.23 L120.92,512.84 L122.36,510.15 L123.80,507.15 L125.24,503.85 L126.68,500.25 L128.12,496.37 L129.56,492.25 L131.00,487.95 L132.44,483.51 L133.88,479.00 L135.32,474.50 L136.76,470.08 L138.20,465.79 L139.64,461.70 L141.08,457.86 L142.52,454.29 L143.96,451.03 L145.40,448.07 L146.84,445.41 L148.28,443.06 L149.72,440.99 L151.16,439.17 L152.60,437.60 L154.04,436.24 L155.48,435.07 L156.92,434.06 L158.36,433.21 L159.80,432.48 L161.24,431.86 L162.68,431.34 L164.12,430.90 L165.56,430.53 L167.00,430.21" fill="none" stroke="#111" stroke-width="1.2" stroke-linejoin="round" stroke-linecap="round"/>
<path d="M80.60,529.83 L82.04,529.80 L83.48,529.75 L84.92,529.70 L86.36,529.65 L87.80,529.57 L89.24,529.49 L90.68,529.39 L92.12,529.26 L93.56,529.11 L95.00,528.94 L96.44,528.72 L97.88,528.47 L99.32,528.17 L100.76,527.80 L102.20,527.37 L103.64,526.86 L105.08,526.24 L106.52,525.52 L107.96,524.66 L109.40,523.65 L110.84,522.46 L112.28,521.06 L113.72,519.45 L115.16,517.57 L116.60,515.42 L118.04,512.97 L119.48,510.19 L120.92,507.09 L122.36,503.66 L123.80,499.91 L125.24,495.88 L126.68,491.59 L128.12,487.10 L129.56,482.49 L131.00,477.83 L132.44,473.18 L133.88,468.64 L135.32,464.28 L136.76,460.14 L138.20,456.28 L139.64,452.73 L141.08,449.50 L142.52,446.61 L143.96,444.03 L145.40,441.77 L146.84,439.80 L148.28,438.08 L149.72,436.61 L151.16,435.35 L152.60,434.27 L154.04,433.36 L155.48,432.58 L156.92,431.93 L158.36,431.38 L159.80,430.92 L161.24,430.53 L162.68,430.21 L164.12,429.94 L165.56,429.71 L167.00,429.52" fill="none" stroke="#111" stroke-width="1.2" stroke-linejoin="round" stroke-linecap="round"/>
<rect x="79.02" y="528.42" width="3.16" height="3.16" fill="#fff" stroke="#111" stroke-width="0.9"/>
<rect x="95.22" y="528.42" width="3.16" height="3.16" fill="#fff" stroke="#111" stroke-width="0.9"/>
<rect x="111.42" y="518.07" width="3.16" height="3.16" fill="#fff" stroke="#111" stroke-width="0.9"/>
<rect x="127.62" y="470.98" width="3.16" height="3.16" fill="#fff" stroke="#111" stroke-width="0.9"/>
<rect x="137.34" y="448.73" width="3.16" height="3.16" fill="#fff" stroke="#111" stroke-width="0.9"/>
<rect x="149.22" y="436.31" width="3.16" height="3.16" fill="#fff" stroke="#111" stroke-width="0.9"/>
<rect x="165.42" y="428.03" width="3.16" height="3.16" fill="#fff" stroke="#111" stroke-width="0.9"/>
<circle cx="80.60" cy="530.00" r="1.58" fill="#fff" stroke="#111" stroke-width="0.9"/>
<circle cx="96.80" cy="530.00" r="1.58" fill="#fff" stroke="#111" stroke-width="0.9"/>
<circle cx="113.00" cy="521.72" r="1.58" fill="#fff" stroke="#111" stroke-width="0.9"/>
<circle cx="129.20" cy="482.39" r="1.58" fill="#fff" stroke="#111" stroke-width="0.9"/>
<circle cx="138.92" cy="457.55" r="1.58" fill="#fff" stroke="#111" stroke-width="0.9"/>
<circle cx="150.80" cy="438.92" r="1.58" fill="#fff" stroke="#111" stroke-width="0.9"/>
<circle cx="167.00" cy="431.68" r="1.58" fill="#fff" stroke="#111" stroke-width="0.9"/>
<line x1="129.20" y1="469.45" x2="129.20" y2="475.66" stroke="#111" stroke-width="0.8"/>
<line x1="127.20" y1="469.45" x2="131.20" y2="469.45" stroke="#111" stroke-width="0.8"/>
<line x1="127.20" y1="475.66" x2="131.20" y2="475.66" stroke="#111" stroke-width="0.8"/>
<line x1="138.92" y1="448.24" x2="138.92" y2="452.38" stroke="#111" stroke-width="0.8"/>
<line x1="136.92" y1="448.24" x2="140.92" y2="448.24" stroke="#111" stroke-width="0.8"/>
<line x1="136.92" y1="452.38" x2="140.92" y2="452.38" stroke="#111" stroke-width="0.8"/>
<line x1="129.20" y1="485.50" x2="129.20" y2="491.70" stroke="#111" stroke-width="0.8"/>
<line x1="127.20" y1="485.50" x2="131.20" y2="485.50" stroke="#111" stroke-width="0.8"/>
<line x1="127.20" y1="491.70" x2="131.20" y2="491.70" stroke="#111" stroke-width="0.8"/>
<line x1="138.92" y1="462.73" x2="138.92" y2="468.94" stroke="#111" stroke-width="0.8"/>
<line x1="136.92" y1="462.73" x2="140.92" y2="462.73" stroke="#111" stroke-width="0.8"/>
<line x1="136.92" y1="468.94" x2="140.92" y2="468.94" stroke="#111" stroke-width="0.8"/>
<line x1="150.80" y1="444.10" x2="150.80" y2="450.31" stroke="#111" stroke-width="0.8"/>
<line x1="148.80" y1="444.10" x2="152.80" y2="444.10" stroke="#111" stroke-width="0.8"/>
<line x1="148.80" y1="450.31" x2="152.80" y2="450.31" stroke="#111" stroke-width="0.8"/>
<line x1="167.00" y1="430.64" x2="167.00" y2="434.78" stroke="#111" stroke-width="0.8"/>
<line x1="165.00" y1="430.64" x2="169.00" y2="430.64" stroke="#111" stroke-width="0.8"/>
<line x1="165.00" y1="434.78" x2="169.00" y2="434.78" stroke="#111" stroke-width="0.8"/>
<line x1="129.20" y1="491.70" x2="129.20" y2="502.06" stroke="#111" stroke-width="0.8"/>
<line x1="127.20" y1="491.70" x2="131.20" y2="491.70" stroke="#111" stroke-width="0.8"/>
<line x1="127.20" y1="502.06" x2="131.20" y2="502.06" stroke="#111" stroke-width="0.8"/>
<line x1="129.20" y1="479.29" x2="129.20" y2="485.50" stroke="#111" stroke-width="0.8"/>
<line x1="127.20" y1="479.29" x2="131.20" y2="479.29" stroke="#111" stroke-width="0.8"/>
<line x1="127.20" y1="485.50" x2="131.20" y2="485.50" stroke="#111" stroke-width="0.8"/>
<line x1="138.92" y1="454.44" x2="138.92" y2="460.65" stroke="#111" stroke-width="0.8"/>
<line x1="136.92" y1="454.44" x2="140.92" y2="454.44" stroke="#111" stroke-width="0.8"/>
<line x1="136.92" y1="460.65" x2="140.92" y2="460.65" stroke="#111" stroke-width="0.8"/>
<line x1="167.00" y1="429.61" x2="167.00" y2="433.75" stroke="#111" stroke-width="0.8"/>
<line x1="165.00" y1="429.61" x2="169.00" y2="429.61" stroke="#111" stroke-width="0.8"/>
<line x1="165.00" y1="433.75" x2="169.00" y2="433.75" stroke="#111" stroke-width="0.8"/>
<rect x="78.80" y="528.20" width="3.6" height="3.6" fill="#111"/>
<rect x="95.00" y="528.20" width="3.6" height="3.6" fill="#111"/>
<rect x="111.20" y="527.17" width="3.6" height="3.6" fill="#111"/>
<rect x="127.40" y="486.80" width="3.6" height="3.6" fill="#111"/>
<rect x="137.12" y="464.03" width="3.6" height="3.6" fill="#111"/>
<rect x="149.00" y="445.40" width="3.6" height="3.6" fill="#111"/>
<rect x="165.20" y="430.91" width="3.6" height="3.6" fill="#111"/>
<circle cx="80.60" cy="530.00" r="1.80" fill="#111"/>
<circle cx="96.80" cy="530.00" r="1.80" fill="#111"/>
<circle cx="113.00" cy="527.93" r="1.80" fill="#111"/>
<circle cx="129.20" cy="496.88" r="1.80" fill="#111"/>
<circle cx="138.92" cy="461.69" r="1.80" fill="#111"/>
<circle cx="150.80" cy="442.02" r="1.80" fill="#111"/>
<circle cx="167.00" cy="430.64" r="1.80" fill="#111"/>
<rect x="186.70" y="408.10" width="3.8" height="3.8" fill="#111"/>
<text x="198.00" y="412.75" font-size="8.0" text-anchor="start" fill="#111" stroke="#111" stroke-width="0.22">Vehicle</text>
<rect x="186.93" y="419.33" width="3.34" height="3.34" fill="#fff" stroke="#111" stroke-width="1.1"/>
<text x="198.00" y="423.75" font-size="8.0" text-anchor="start" fill="#111" stroke="#111" stroke-width="0.22">Vehicle + TPO</text>
<circle cx="188.60" cy="432.00" r="1.90" fill="#111"/>
<text x="198.00" y="434.75" font-size="8.0" text-anchor="start" fill="#111" stroke="#111" stroke-width="0.22">WTM</text>
<circle cx="188.60" cy="443.00" r="1.67" fill="#fff" stroke="#111" stroke-width="1.1"/>
<text x="198.00" y="445.75" font-size="8.0" text-anchor="start" fill="#111" stroke="#111" stroke-width="0.22">WTM + TPO</text>
<defs><filter id="b1" x="-50%" y="-100%" width="200%" height="300%"><feGaussianBlur stdDeviation="0.75"/></filter><filter id="b2" x="-50%" y="-100%" width="200%" height="300%"><feGaussianBlur stdDeviation="1.2"/></filter><filter id="b3" x="-50%" y="-100%" width="200%" height="300%"><feGaussianBlur stdDeviation="1.0 0.8"/></filter></defs>
<text x="271.30" y="381.70" font-size="17.0" font-weight="bold" text-anchor="start" fill="#000" stroke="#000" stroke-width="0.25">F</text>
<text x="291.00" y="381.70" font-size="10.6" text-anchor="start" fill="#111" stroke="#111" stroke-width="0.28">TPO-SFLLRN</text>
<text x="275.80" y="409.00" font-size="10.7" text-anchor="start" fill="#111" stroke="#111" stroke-width="0.15">[SFLLRN] μM</text>
<text x="0" y="0" font-size="12" fill="#111" stroke="#111" stroke-width="0.2" transform="translate(370.20 412.50) rotate(-90) scale(0.87 1)">0.2</text>
<text x="0" y="0" font-size="12" fill="#111" stroke="#111" stroke-width="0.2" transform="translate(383.50 412.50) rotate(-90) scale(0.87 1)">0.5</text>
<text x="0" y="0" font-size="12" fill="#111" stroke="#111" stroke-width="0.2" transform="translate(397.50 412.50) rotate(-90) scale(0.87 1)">1</text>
<rect x="355.6" y="417.8" width="43.80" height="13.50" fill="#d0d0d0"/>
<rect x="355.6" y="431.3" width="43.80" height="13.30" fill="#d8d8d8"/>
<rect x="359.90" y="426.30" width="9.00" height="2.60" rx="1.30" fill="#0a0a0a" opacity="0.1" filter="url(#b3)"/>
<rect x="372.50" y="426.30" width="9.00" height="2.60" rx="1.30" fill="#0a0a0a" opacity="0.1" filter="url(#b3)"/>
<rect x="384.50" y="425.90" width="9.00" height="2.80" rx="1.40" fill="#0a0a0a" opacity="0.18" filter="url(#b3)"/>
<rect x="385.00" y="422.00" width="8.00" height="2.60" rx="1.30" fill="#0a0a0a" opacity="0.12" filter="url(#b3)"/>
<rect x="359.15" y="435.40" width="10.50" height="2.80" rx="1.40" fill="#0a0a0a" opacity="0.22" filter="url(#b3)"/>
<rect x="372.25" y="435.40" width="10.50" height="2.80" rx="1.40" fill="#0a0a0a" opacity="0.3" filter="url(#b3)"/>
<rect x="385.75" y="434.90" width="11.50" height="3.00" rx="1.50" fill="#0a0a0a" opacity="0.85" filter="url(#b3)"/>
<rect x="359.15" y="439.40" width="10.50" height="2.80" rx="1.40" fill="#0a0a0a" opacity="0.22" filter="url(#b3)"/>
<rect x="372.25" y="439.40" width="10.50" height="2.80" rx="1.40" fill="#0a0a0a" opacity="0.2" filter="url(#b3)"/>
<rect x="386.25" y="439.40" width="10.50" height="2.80" rx="1.40" fill="#0a0a0a" opacity="0.2" filter="url(#b3)"/>
<rect x="355.50" y="417.50" width="44.00" height="27.00" fill="none" stroke="#1a1a1a" stroke-width="1.15"/>
<line x1="355.50" y1="431.50" x2="399.50" y2="431.50" stroke="#1a1a1a" stroke-width="1.25"/>
<text x="338.94" y="438.30" font-size="10.7" text-anchor="end" fill="#111" stroke="#111" stroke-width="0.15">pAkt</text>
<text x="0" y="0" font-size="7.2" fill="#222" stroke="#222" stroke-width="0.15" transform="translate(338.94 435.20) scale(0.86 1)">S473</text>
<text x="400.60" y="441.00" font-size="10.7" text-anchor="start" fill="#111" stroke="#111" stroke-width="0.15">+ TPO</text>
<rect x="355.6" y="450" width="43.80" height="13.30" fill="#e6e6e6"/>
<rect x="355.6" y="463.3" width="43.80" height="13.30" fill="#e2e2e2"/>
<rect x="387.00" y="455.20" width="9.00" height="2.40" rx="1.20" fill="#0a0a0a" opacity="0.35" filter="url(#b3)"/>
<rect x="359.65" y="468.00" width="9.50" height="2.60" rx="1.30" fill="#0a0a0a" opacity="0.22" filter="url(#b3)"/>
<rect x="372.25" y="468.00" width="9.50" height="2.60" rx="1.30" fill="#0a0a0a" opacity="0.3" filter="url(#b3)"/>
<rect x="386.00" y="467.40" width="11.00" height="3.20" rx="1.60" fill="#0a0a0a" opacity="0.75" filter="url(#b3)"/>
<rect x="355.50" y="450.50" width="44.00" height="26.00" fill="none" stroke="#1a1a1a" stroke-width="1.15"/>
<line x1="355.50" y1="463.50" x2="399.50" y2="463.50" stroke="#1a1a1a" stroke-width="1.25"/>
<text x="339.29" y="469.30" font-size="10.7" text-anchor="end" fill="#111" stroke="#111" stroke-width="0.15">pAkt</text>
<text x="0" y="0" font-size="7.2" fill="#222" stroke="#222" stroke-width="0.15" transform="translate(339.29 466.20) scale(0.86 1)">T308</text>
<text x="400.60" y="474.40" font-size="10.7" text-anchor="start" fill="#111" stroke="#111" stroke-width="0.15">+ TPO</text>
<rect x="355.6" y="483.7" width="43.80" height="13.30" fill="#e4e4e4"/>
<rect x="355.6" y="497" width="43.80" height="13.60" fill="#e2e2e2"/>
<rect x="359.00" y="490.40" width="9.00" height="2.20" rx="1.10" fill="#0a0a0a" opacity="0.22" filter="url(#b3)"/>
<rect x="371.50" y="490.40" width="9.00" height="2.20" rx="1.10" fill="#0a0a0a" opacity="0.25" filter="url(#b3)"/>
<rect x="384.75" y="489.90" width="10.50" height="2.80" rx="1.40" fill="#0a0a0a" opacity="0.92" filter="url(#b3)"/>
<rect x="358.80" y="502.80" width="10.00" height="2.80" rx="1.40" fill="#0a0a0a" opacity="0.6" filter="url(#b3)"/>
<rect x="372.50" y="502.80" width="10.00" height="2.80" rx="1.40" fill="#0a0a0a" opacity="0.72" filter="url(#b3)"/>
<rect x="385.45" y="502.20" width="11.50" height="3.40" rx="1.70" fill="#0a0a0a" opacity="0.9" filter="url(#b3)"/>
<rect x="355.50" y="483.50" width="44.00" height="27.00" fill="none" stroke="#1a1a1a" stroke-width="1.15"/>
<line x1="355.50" y1="497.50" x2="399.50" y2="497.50" stroke="#1a1a1a" stroke-width="1.25"/>
<text x="345.83" y="500.80" font-size="10.7" text-anchor="end" fill="#111" stroke="#111" stroke-width="0.15">pGSK3β</text>
<text x="0" y="0" font-size="7.2" fill="#222" stroke="#222" stroke-width="0.15" transform="translate(345.83 497.70) scale(0.86 1)">S9</text>
<text x="400.60" y="506.70" font-size="10.7" text-anchor="start" fill="#111" stroke="#111" stroke-width="0.15">+ TPO</text>
<rect x="355.6" y="519.4" width="43.80" height="13.40" fill="#dcdcdc"/>
<rect x="355.6" y="532.8" width="43.80" height="13.50" fill="#dedede"/>
<rect x="359.00" y="524.90" width="9.00" height="2.20" rx="1.10" fill="#0a0a0a" opacity="0.15" filter="url(#b3)"/>
<rect x="372.50" y="525.40" width="9.00" height="2.40" rx="1.20" fill="#0a0a0a" opacity="0.25" filter="url(#b3)"/>
<rect x="385.50" y="525.40" width="11.00" height="3.20" rx="1.60" fill="#0a0a0a" opacity="0.8" filter="url(#b3)"/>
<rect x="361.00" y="537.90" width="8.00" height="2.60" rx="1.30" fill="#0a0a0a" opacity="0.28" filter="url(#b3)"/>
<rect x="374.75" y="537.40" width="10.50" height="3.20" rx="1.60" fill="#0a0a0a" opacity="0.68" filter="url(#b3)"/>
<rect x="387.75" y="536.00" width="10.50" height="4.80" rx="2.40" fill="#0a0a0a" opacity="0.97" filter="url(#b3)"/>
<rect x="355.50" y="519.50" width="44.00" height="27.00" fill="none" stroke="#1a1a1a" stroke-width="1.15"/>
<line x1="355.50" y1="532.50" x2="399.50" y2="532.50" stroke="#1a1a1a" stroke-width="1.25"/>
<text x="323.11" y="538.20" font-size="10.7" text-anchor="end" fill="#111" stroke="#111" stroke-width="0.15">pERK1/2</text>
<text x="0" y="0" font-size="7.2" fill="#222" stroke="#222" stroke-width="0.15" transform="translate(323.11 535.10) scale(0.86 1)">T202/Y204</text>
<text x="400.60" y="542.80" font-size="10.7" text-anchor="start" fill="#111" stroke="#111" stroke-width="0.15">+ TPO</text>
<rect x="355.6" y="550.5" width="43.80" height="13.50" fill="#e4e4e4"/>
<rect x="355.6" y="564" width="43.80" height="13.30" fill="#e2e2e2"/>
<rect x="385.75" y="552.20" width="11.50" height="4.40" rx="2.20" fill="#0a0a0a" opacity="0.95" filter="url(#b3)"/>
<rect x="372.00" y="567.00" width="10.00" height="3.00" rx="1.50" fill="#0a0a0a" opacity="0.6" filter="url(#b3)"/>
<rect x="385.75" y="565.80" width="11.50" height="5.00" rx="2.50" fill="#0a0a0a" opacity="0.97" filter="url(#b3)"/>
<rect x="355.50" y="550.50" width="44.00" height="27.00" fill="none" stroke="#1a1a1a" stroke-width="1.15"/>
<line x1="355.50" y1="564.50" x2="399.50" y2="564.50" stroke="#1a1a1a" stroke-width="1.25"/>
<text x="353.20" y="568.00" font-size="10.7" text-anchor="end" fill="#111" stroke="#111" stroke-width="0.15">pPLK</text>
<text x="400.60" y="574.00" font-size="10.7" text-anchor="start" fill="#111" stroke="#111" stroke-width="0.15">+ TPO</text>
<text x="1.60" y="599.40" font-size="17.0" font-weight="bold" text-anchor="start" fill="#000" stroke="#000" stroke-width="0.25">G</text>
<text x="26.40" y="599.80" font-size="10.5" text-anchor="start" fill="#111" stroke="#111" stroke-width="0.28">Rap1: TPO-SFLLRN</text>
<text x="128.00" y="620.20" font-size="10.6" text-anchor="middle" fill="#111" stroke="#111" stroke-width="0.15">Vehicle</text>
<line x1="88.00" y1="624.40" x2="167.50" y2="624.40" stroke="#111" stroke-width="0.9"/>
<text x="212.30" y="620.20" font-size="10.6" text-anchor="middle" fill="#111" stroke="#111" stroke-width="0.15">TPO</text>
<line x1="172.00" y1="624.40" x2="252.00" y2="624.40" stroke="#111" stroke-width="0.9"/>
<text x="3.00" y="642.50" font-size="10.4" text-anchor="start" fill="#111" stroke="#111" stroke-width="0.15">[SFLLRN] μM</text>
<text x="0" y="0" font-size="11.3" fill="#111" stroke="#111" stroke-width="0.2" transform="translate(97.55 643.30) rotate(-90) scale(0.93 1)">0</text>
<text x="0" y="0" font-size="11.3" fill="#111" stroke="#111" stroke-width="0.2" transform="translate(113.05 643.30) rotate(-90) scale(0.93 1)">0.2</text>
<text x="0" y="0" font-size="11.3" fill="#111" stroke="#111" stroke-width="0.2" transform="translate(126.75 643.30) rotate(-90) scale(0.93 1)">0.5</text>
<text x="0" y="0" font-size="11.3" fill="#111" stroke="#111" stroke-width="0.2" transform="translate(139.85 643.30) rotate(-90) scale(0.93 1)">1</text>
<text x="0" y="0" font-size="11.3" fill="#111" stroke="#111" stroke-width="0.2" transform="translate(152.35 643.30) rotate(-90) scale(0.93 1)">2</text>
<text x="0" y="0" font-size="11.3" fill="#111" stroke="#111" stroke-width="0.2" transform="translate(165.75 643.30) rotate(-90) scale(0.93 1)">5</text>
<text x="0" y="0" font-size="11.3" fill="#111" stroke="#111" stroke-width="0.2" transform="translate(178.45 643.30) rotate(-90) scale(0.93 1)">0</text>
<text x="0" y="0" font-size="11.3" fill="#111" stroke="#111" stroke-width="0.2" transform="translate(192.85 643.30) rotate(-90) scale(0.93 1)">0.2</text>
<text x="0" y="0" font-size="11.3" fill="#111" stroke="#111" stroke-width="0.2" transform="translate(206.75 643.30) rotate(-90) scale(0.93 1)">0.5</text>
<text x="0" y="0" font-size="11.3" fill="#111" stroke="#111" stroke-width="0.2" transform="translate(219.85 643.30) rotate(-90) scale(0.93 1)">1</text>
<text x="0" y="0" font-size="11.3" fill="#111" stroke="#111" stroke-width="0.2" transform="translate(233.25 643.30) rotate(-90) scale(0.93 1)">2</text>
<text x="0" y="0" font-size="11.3" fill="#111" stroke="#111" stroke-width="0.2" transform="translate(247.65 643.30) rotate(-90) scale(0.93 1)">5</text>
<text x="80.80" y="656.20" font-size="10.6" text-anchor="end" fill="#111" stroke="#111" stroke-width="0.15">Rap1-GTP</text>
<text x="80.80" y="668.80" font-size="10.6" text-anchor="end" fill="#111" stroke="#111" stroke-width="0.15">Total Rap1</text>
<rect x="83.8" y="648.6" width="171.80" height="25.10" fill="#c6c6c6"/>
<rect x="84.5" y="662" width="170.5" height="11" fill="#b4b4b4"/>
<rect x="105.60" y="653.20" width="8.80" height="2.80" rx="1.40" fill="#0a0a0a" opacity="0.18" filter="url(#b3)"/>
<rect x="118.60" y="653.20" width="9.80" height="2.80" rx="1.40" fill="#0a0a0a" opacity="0.45" filter="url(#b3)"/>
<rect x="130.55" y="652.75" width="11.30" height="3.70" rx="1.85" fill="#0a0a0a" opacity="0.95" filter="url(#b3)"/>
<rect x="143.15" y="653.20" width="10.30" height="2.80" rx="1.40" fill="#0a0a0a" opacity="0.88" filter="url(#b3)"/>
<rect x="156.65" y="653.20" width="9.30" height="2.80" rx="1.40" fill="#0a0a0a" opacity="0.55" filter="url(#b3)"/>
<rect x="171.60" y="653.20" width="8.80" height="2.80" rx="1.40" fill="#0a0a0a" opacity="0.12" filter="url(#b3)"/>
<rect x="183.80" y="653.20" width="8.80" height="2.80" rx="1.40" fill="#0a0a0a" opacity="0.25" filter="url(#b3)"/>
<rect x="196.10" y="652.75" width="11.80" height="3.70" rx="1.85" fill="#0a0a0a" opacity="0.95" filter="url(#b3)"/>
<rect x="208.85" y="652.75" width="13.30" height="3.70" rx="1.85" fill="#0a0a0a" opacity="0.97" filter="url(#b3)"/>
<rect x="223.10" y="652.75" width="13.80" height="3.70" rx="1.85" fill="#0a0a0a" opacity="0.97" filter="url(#b3)"/>
<rect x="238.40" y="652.75" width="13.80" height="3.70" rx="1.85" fill="#0a0a0a" opacity="0.97" filter="url(#b3)"/>
<rect x="89.95" y="665.30" width="11.30" height="3.60" rx="1.80" fill="#0a0a0a" opacity="0.92" filter="url(#b3)"/>
<rect x="103.90" y="665.30" width="12.80" height="3.60" rx="1.80" fill="#0a0a0a" opacity="0.95" filter="url(#b3)"/>
<rect x="117.15" y="665.30" width="12.30" height="3.60" rx="1.80" fill="#0a0a0a" opacity="0.95" filter="url(#b3)"/>
<rect x="129.95" y="665.30" width="11.30" height="3.60" rx="1.80" fill="#0a0a0a" opacity="0.92" filter="url(#b3)"/>
<rect x="143.80" y="665.30" width="10.80" height="3.60" rx="1.80" fill="#0a0a0a" opacity="0.88" filter="url(#b3)"/>
<rect x="157.35" y="665.30" width="11.30" height="3.60" rx="1.80" fill="#0a0a0a" opacity="0.92" filter="url(#b3)"/>
<rect x="171.90" y="665.30" width="11.80" height="3.60" rx="1.80" fill="#0a0a0a" opacity="0.92" filter="url(#b3)"/>
<rect x="185.40" y="665.30" width="10.80" height="3.60" rx="1.80" fill="#0a0a0a" opacity="0.9" filter="url(#b3)"/>
<rect x="199.20" y="665.30" width="10.80" height="3.60" rx="1.80" fill="#0a0a0a" opacity="0.55" filter="url(#b3)"/>
<rect x="211.95" y="665.30" width="11.30" height="3.60" rx="1.80" fill="#0a0a0a" opacity="0.9" filter="url(#b3)"/>
<rect x="226.00" y="665.30" width="10.80" height="3.60" rx="1.80" fill="#0a0a0a" opacity="0.85" filter="url(#b3)"/>
<rect x="239.85" y="665.30" width="12.30" height="3.60" rx="1.80" fill="#0a0a0a" opacity="0.95" filter="url(#b3)"/>
<rect x="83.50" y="648.50" width="172.00" height="25.00" fill="none" stroke="#1a1a1a" stroke-width="1.2"/>
<line x1="83.50" y1="661.50" x2="255.50" y2="661.50" stroke="#1a1a1a" stroke-width="1.3"/>
<text x="271.30" y="599.40" font-size="17.0" font-weight="bold" text-anchor="start" fill="#000" stroke="#000" stroke-width="0.25">H</text>
<text x="291.50" y="599.60" font-size="10.65" text-anchor="start" fill="#111" stroke="#111" stroke-width="0.28">Rap1: Wortmannin/JAK2i IV</text>
<text x="455.50" y="609.80" font-size="10.6" text-anchor="middle" fill="#111" stroke="#111" stroke-width="0.15">WTM</text>
<line x1="438.80" y1="612.60" x2="472.00" y2="612.60" stroke="#111" stroke-width="0.9"/>
<text x="496.20" y="609.80" font-size="10.7" text-anchor="middle" fill="#111" stroke="#111" stroke-width="0.15">JAK2i IV</text>
<line x1="479.00" y1="612.60" x2="512.30" y2="612.60" stroke="#111" stroke-width="0.9"/>
<text x="280.50" y="627.50" font-size="10.4" text-anchor="start" fill="#111" stroke="#111" stroke-width="0.15">[TPO]</text>
<text x="340.50" y="627.50" font-size="10.4" text-anchor="end" fill="#111" stroke="#111" stroke-width="0.15">ng/ml</text>
<text x="275.50" y="642.50" font-size="10.4" text-anchor="start" fill="#111" stroke="#111" stroke-width="0.15">[SFLLRN] μM</text>
<text x="0" y="0" font-size="11.5" fill="#111" stroke="#111" stroke-width="0.2" transform="translate(362.02 629.90) rotate(-90) scale(0.78 1)">0</text>
<text x="0" y="0" font-size="11.5" fill="#111" stroke="#111" stroke-width="0.2" transform="translate(381.22 630.90) rotate(-90) scale(0.78 1)">100</text>
<text x="0" y="0" font-size="11.5" fill="#111" stroke="#111" stroke-width="0.2" transform="translate(404.92 629.90) rotate(-90) scale(0.78 1)">0</text>
<text x="0" y="0" font-size="11.5" fill="#111" stroke="#111" stroke-width="0.2" transform="translate(424.52 630.90) rotate(-90) scale(0.78 1)">100</text>
<text x="0" y="0" font-size="11.5" fill="#111" stroke="#111" stroke-width="0.2" transform="translate(446.22 629.90) rotate(-90) scale(0.78 1)">0</text>
<text x="0" y="0" font-size="11.5" fill="#111" stroke="#111" stroke-width="0.2" transform="translate(468.32 630.90) rotate(-90) scale(0.78 1)">100</text>
<text x="0" y="0" font-size="11.5" fill="#111" stroke="#111" stroke-width="0.2" transform="translate(489.52 629.90) rotate(-90) scale(0.78 1)">0</text>
<text x="0" y="0" font-size="11.5" fill="#111" stroke="#111" stroke-width="0.2" transform="translate(511.62 630.90) rotate(-90) scale(0.78 1)">100</text>
<text x="0" y="0" font-size="11.5" fill="#111" stroke="#111" stroke-width="0.2" transform="translate(362.02 642.00) rotate(-90) scale(0.78 1)">0</text>
<text x="0" y="0" font-size="11.5" fill="#111" stroke="#111" stroke-width="0.2" transform="translate(381.22 642.00) rotate(-90) scale(0.78 1)">0</text>
<text x="0" y="0" font-size="11.5" fill="#111" stroke="#111" stroke-width="0.2" transform="translate(404.92 642.00) rotate(-90) scale(0.78 1)">1</text>
<text x="0" y="0" font-size="11.5" fill="#111" stroke="#111" stroke-width="0.2" transform="translate(424.52 642.00) rotate(-90) scale(0.78 1)">1</text>
<text x="0" y="0" font-size="11.5" fill="#111" stroke="#111" stroke-width="0.2" transform="translate(446.22 642.00) rotate(-90) scale(0.78 1)">1</text>
<text x="0" y="0" font-size="11.5" fill="#111" stroke="#111" stroke-width="0.2" transform="translate(468.32 642.00) rotate(-90) scale(0.78 1)">1</text>
<text x="0" y="0" font-size="11.5" fill="#111" stroke="#111" stroke-width="0.2" transform="translate(489.52 642.00) rotate(-90) scale(0.78 1)">1</text>
<text x="0" y="0" font-size="11.5" fill="#111" stroke="#111" stroke-width="0.2" transform="translate(511.62 642.00) rotate(-90) scale(0.78 1)">1</text>
<text x="340.50" y="657.00" font-size="10.4" text-anchor="end" fill="#111" stroke="#111" stroke-width="0.15">Rap1-GTP</text>
<text x="340.50" y="668.80" font-size="10.4" text-anchor="end" fill="#111" stroke="#111" stroke-width="0.15">Total Rap1</text>
<rect x="342.6" y="647.5" width="175.60" height="25.60" fill="#d8d8d8"/>
<rect x="342.6" y="660.2" width="175.60" height="12.90" fill="#d0d0d0"/>
<rect x="392.30" y="653.00" width="13.00" height="2.20" rx="1.10" fill="#0a0a0a" opacity="0.22" filter="url(#b3)"/>
<rect x="411.70" y="653.00" width="14.00" height="2.20" rx="1.10" fill="#0a0a0a" opacity="0.5" filter="url(#b3)"/>
<rect x="432.60" y="653.00" width="12.00" height="2.20" rx="1.10" fill="#0a0a0a" opacity="0.1" filter="url(#b3)"/>
<rect x="456.90" y="653.00" width="12.00" height="2.20" rx="1.10" fill="#0a0a0a" opacity="0.12" filter="url(#b3)"/>
<rect x="475.50" y="653.00" width="13.00" height="2.20" rx="1.10" fill="#0a0a0a" opacity="0.22" filter="url(#b3)"/>
<rect x="498.50" y="653.00" width="13.00" height="2.20" rx="1.10" fill="#0a0a0a" opacity="0.15" filter="url(#b3)"/>
<rect x="350.80" y="665.70" width="13.00" height="3.40" rx="1.70" fill="#0a0a0a" opacity="0.7" filter="url(#b2)" transform="rotate(14 357.3 667.4)"/>
<rect x="370.50" y="665.70" width="13.00" height="3.40" rx="1.70" fill="#0a0a0a" opacity="0.75" filter="url(#b2)" transform="rotate(6 377.0 667.4)"/>
<rect x="393.50" y="665.70" width="14.00" height="3.40" rx="1.70" fill="#0a0a0a" opacity="0.4" filter="url(#b2)"/>
<rect x="413.40" y="665.70" width="14.00" height="3.40" rx="1.70" fill="#0a0a0a" opacity="0.55" filter="url(#b2)"/>
<rect x="436.00" y="665.70" width="14.00" height="3.40" rx="1.70" fill="#0a0a0a" opacity="0.85" filter="url(#b2)"/>
<rect x="456.70" y="665.70" width="14.00" height="3.40" rx="1.70" fill="#0a0a0a" opacity="0.65" filter="url(#b2)"/>
<rect x="478.00" y="665.70" width="14.00" height="3.40" rx="1.70" fill="#0a0a0a" opacity="0.65" filter="url(#b2)"/>
<rect x="498.50" y="665.70" width="13.00" height="3.40" rx="1.70" fill="#0a0a0a" opacity="0.55" filter="url(#b2)"/>
<rect x="342.50" y="647.50" width="176.00" height="26.00" fill="none" stroke="#1a1a1a" stroke-width="1.15"/>
<line x1="342.50" y1="660.50" x2="518.50" y2="660.50" stroke="#1a1a1a" stroke-width="1.25"/>
</svg>
</body>
</html>
